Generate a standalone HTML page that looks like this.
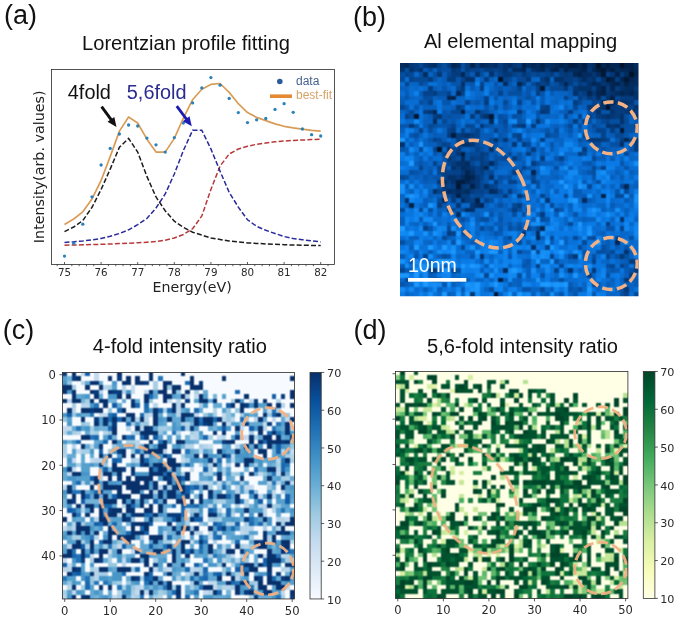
<!DOCTYPE html>
<html lang="en"><head><meta charset="utf-8"><title>Lorentzian profile fitting and intensity ratio maps</title>
<style>html,body{margin:0;padding:0;background:#fff}body{width:680px;height:620px;overflow:hidden}svg{display:block}.ar{font-family:"Liberation Sans",sans-serif}.dj{font-family:"DejaVu Sans","Liberation Sans",sans-serif}</style></head><body>
<svg width="680" height="620" viewBox="0 0 680 620">
<defs>
<linearGradient id="gBlues" x1="0" y1="1" x2="0" y2="0">
<stop offset="0.000" stop-color="#f7fbff"/>
<stop offset="0.125" stop-color="#deebf7"/>
<stop offset="0.250" stop-color="#c6dbef"/>
<stop offset="0.375" stop-color="#9dcae1"/>
<stop offset="0.500" stop-color="#6aaed6"/>
<stop offset="0.625" stop-color="#4191c6"/>
<stop offset="0.750" stop-color="#2070b4"/>
<stop offset="0.875" stop-color="#08509b"/>
<stop offset="1.000" stop-color="#08306b"/>
</linearGradient>
<linearGradient id="gYlGn" x1="0" y1="1" x2="0" y2="0">
<stop offset="0.000" stop-color="#ffffe5"/>
<stop offset="0.125" stop-color="#f7fcb9"/>
<stop offset="0.250" stop-color="#d9f0a3"/>
<stop offset="0.375" stop-color="#acdd8e"/>
<stop offset="0.500" stop-color="#77c679"/>
<stop offset="0.625" stop-color="#40aa5c"/>
<stop offset="0.750" stop-color="#228343"/>
<stop offset="0.875" stop-color="#006737"/>
<stop offset="1.000" stop-color="#004529"/>
</linearGradient>
<filter id="bl" x="0" y="0" width="100%" height="100%" color-interpolation-filters="sRGB"><feConvolveMatrix order="3" kernelMatrix="1 2 1 2 4 2 1 2 1" divisor="16" edgeMode="duplicate" preserveAlpha="true"/></filter>
<clipPath id="clipB"><rect x="400" y="63" width="238.5" height="233.3"/></clipPath>
<clipPath id="clipC"><rect x="62.45" y="372.45" width="232.0" height="226.5"/></clipPath>
<clipPath id="clipD"><rect x="395.5" y="371.45" width="232.4" height="226.95"/></clipPath>
</defs>
<rect width="680" height="620" fill="#fff"/>
<text class="ar" x="3.9" y="24.3" font-size="27" fill="#111" text-anchor="start">(a)</text>
<text class="ar" x="353.1" y="26.0" font-size="27" fill="#111" text-anchor="start">(b)</text>
<text class="ar" x="2.8" y="338.9" font-size="27" fill="#111" text-anchor="start">(c)</text>
<text class="ar" x="353.5" y="338.9" font-size="27" fill="#111" text-anchor="start">(d)</text>
<text class="ar" x="185.95" y="49.6" font-size="20.1" fill="#111" text-anchor="middle">Lorentzian profile fitting</text>
<text class="ar" x="520.55" y="48.1" font-size="20.1" fill="#111" text-anchor="middle">Al elemental mapping</text>
<text class="ar" x="179.9" y="352.7" font-size="20.1" fill="#111" text-anchor="middle">4-fold intensity ratio</text>
<text class="ar" x="522.5" y="353.2" font-size="20.1" fill="#111" text-anchor="middle">5,6-fold intensity ratio</text>
<g id="panel-a">
<rect x="51.45" y="69.45" width="283.05" height="194.95" fill="#fff" stroke="#2a2a2a" stroke-width="0.8"/>
<path d="M64.50 264.4v-2.4M101.10 264.4v-2.4M137.70 264.4v-2.4M174.30 264.4v-2.4M210.90 264.4v-2.4M247.50 264.4v-2.4M284.10 264.4v-2.4M320.70 264.4v-2.4M57.18 264.4v1.8M71.82 264.4v1.8M79.14 264.4v1.8M86.46 264.4v1.8M93.78 264.4v1.8M108.42 264.4v1.8M115.74 264.4v1.8M123.06 264.4v1.8M130.38 264.4v1.8M145.02 264.4v1.8M152.34 264.4v1.8M159.66 264.4v1.8M166.98 264.4v1.8M181.62 264.4v1.8M188.94 264.4v1.8M196.26 264.4v1.8M203.58 264.4v1.8M218.22 264.4v1.8M225.54 264.4v1.8M232.86 264.4v1.8M240.18 264.4v1.8M254.82 264.4v1.8M262.14 264.4v1.8M269.46 264.4v1.8M276.78 264.4v1.8M291.42 264.4v1.8M298.74 264.4v1.8M306.06 264.4v1.8M313.38 264.4v1.8M328.02 264.4v1.8" stroke="#333" stroke-width="0.8" fill="none"/>
<text class="dj" x="64.5" y="275.8" font-size="10.3" fill="#2a2a2a" text-anchor="middle">75</text>
<text class="dj" x="101.1" y="275.8" font-size="10.3" fill="#2a2a2a" text-anchor="middle">76</text>
<text class="dj" x="137.7" y="275.8" font-size="10.3" fill="#2a2a2a" text-anchor="middle">77</text>
<text class="dj" x="174.3" y="275.8" font-size="10.3" fill="#2a2a2a" text-anchor="middle">78</text>
<text class="dj" x="210.9" y="275.8" font-size="10.3" fill="#2a2a2a" text-anchor="middle">79</text>
<text class="dj" x="247.5" y="275.8" font-size="10.3" fill="#2a2a2a" text-anchor="middle">80</text>
<text class="dj" x="284.1" y="275.8" font-size="10.3" fill="#2a2a2a" text-anchor="middle">81</text>
<text class="dj" x="320.7" y="275.8" font-size="10.3" fill="#2a2a2a" text-anchor="middle">82</text>
<text class="dj" x="192.1" y="291.8" font-size="14.2" fill="#222" text-anchor="middle">Energy(eV)</text>
<text class="dj" font-size="14.3" fill="#222" text-anchor="middle" transform="translate(44.4,166.8) rotate(-90)">Intensity(arb. values)</text>
<polyline points="64.5,245.2 73.7,245.0 82.8,244.8 92.0,244.6 101.1,244.3 110.2,244.0 119.4,243.6 128.6,243.3 137.7,242.8 146.9,242.2 156.0,241.5 165.2,240.2 174.3,238.0 183.4,234.5 192.6,228.8 201.8,216.0 210.9,189.5 220.1,166.0 229.2,154.0 238.3,149.0 247.5,146.3 256.6,144.3 265.8,143.0 275.0,141.8 284.1,141.0 293.2,140.4 302.4,140.0 311.6,139.6 320.7,139.2" fill="none" stroke="#b8383a" stroke-width="1.5" stroke-dasharray="5 2.2"/>
<polyline points="64.5,242.4 73.7,241.8 82.8,241.0 92.0,239.9 101.1,238.4 110.2,236.3 119.4,233.5 128.6,229.8 137.7,224.7 146.9,218.5 156.0,208.0 165.2,194.0 174.3,174.0 183.4,150.5 192.6,130.3 201.8,130.3 210.9,148.9 220.1,171.3 229.2,192.4 238.3,207.1 247.5,219.8 256.6,226.3 265.8,230.3 275.0,233.5 284.1,236.5 293.2,238.5 302.4,239.7 311.6,240.9 320.7,241.9" fill="none" stroke="#2a2a9c" stroke-width="1.5" stroke-dasharray="5 2.2"/>
<polyline points="64.5,231.6 73.7,227.0 82.8,220.6 92.0,207.3 101.1,189.5 110.2,169.1 119.4,147.3 128.6,138.4 137.7,152.1 146.9,176.4 156.0,197.0 165.2,210.7 174.3,221.2 183.4,227.3 192.6,232.2 201.8,235.1 210.9,237.9 220.1,239.5 229.2,240.9 238.3,242.0 247.5,242.9 256.6,243.4 265.8,243.9 275.0,244.3 284.1,244.7 293.2,245.0 302.4,245.2 311.6,245.4 320.7,245.6" fill="none" stroke="#1c1c1c" stroke-width="1.5" stroke-dasharray="5 2.2"/>
<polyline points="64.5,224.4 73.7,219.0 82.8,211.8 92.0,198.9 101.1,180.5 110.2,156.6 119.4,131.1 128.6,117.0 137.7,123.0 146.9,139.2 156.0,152.1 165.2,152.1 174.3,138.4 183.4,118.2 192.6,99.7 201.8,89.2 210.9,84.4 220.1,83.5 229.2,92.4 238.3,103.7 247.5,112.6 256.6,117.4 265.8,120.6 275.0,123.9 284.1,126.3 293.2,127.9 302.4,129.2 311.6,130.3 320.7,131.1" fill="none" stroke="#e0a25e" stroke-width="1.7" stroke-linejoin="round"/>
<polyline points="64.5,224.4 73.7,219.0 82.8,211.8 92.0,198.9 101.1,180.5 110.2,156.6 119.4,131.1 128.6,117.0 137.7,123.0 146.9,139.2 156.0,152.1 165.2,152.1 174.3,138.4 183.4,118.2 192.6,99.7 201.8,89.2 210.9,84.4 220.1,83.5 229.2,92.4 238.3,103.7 247.5,112.6 256.6,117.4 265.8,120.6 275.0,123.9 284.1,126.3 293.2,127.9 302.4,129.2 311.6,130.3 320.7,131.1" fill="none" stroke="#b9853f" stroke-width="0.5" stroke-linejoin="round" opacity="0.6"/>
<g fill="#2b82b8">
<circle cx="64.5" cy="256.1" r="1.65"/>
<circle cx="73.7" cy="243.2" r="1.65"/>
<circle cx="82.8" cy="224.2" r="1.65"/>
<circle cx="92.0" cy="196.8" r="1.65"/>
<circle cx="101.1" cy="165.0" r="1.65"/>
<circle cx="110.2" cy="148.4" r="1.65"/>
<circle cx="119.4" cy="134.0" r="1.65"/>
<circle cx="128.6" cy="125.0" r="1.65"/>
<circle cx="137.7" cy="126.0" r="1.65"/>
<circle cx="146.9" cy="138.1" r="1.65"/>
<circle cx="156.0" cy="144.8" r="1.65"/>
<circle cx="165.2" cy="152.1" r="1.65"/>
<circle cx="174.3" cy="137.6" r="1.65"/>
<circle cx="183.4" cy="123.1" r="1.65"/>
<circle cx="192.6" cy="102.9" r="1.65"/>
<circle cx="201.8" cy="87.9" r="1.65"/>
<circle cx="210.9" cy="77.6" r="1.65"/>
<circle cx="220.1" cy="85.2" r="1.65"/>
<circle cx="229.2" cy="98.4" r="1.65"/>
<circle cx="238.3" cy="112.6" r="1.65"/>
<circle cx="247.5" cy="122.6" r="1.65"/>
<circle cx="256.6" cy="119.8" r="1.65"/>
<circle cx="265.8" cy="118.5" r="1.65"/>
<circle cx="275.0" cy="109.4" r="1.65"/>
<circle cx="284.1" cy="103.7" r="1.65"/>
<circle cx="293.2" cy="112.3" r="1.65"/>
<circle cx="302.4" cy="129.0" r="1.65"/>
<circle cx="311.6" cy="134.7" r="1.65"/>
<circle cx="320.7" cy="136.0" r="1.65"/>
</g>
<text class="ar" x="67.8" y="99.4" font-size="19.9" fill="#111" text-anchor="start">4fold</text>
<text class="ar" x="126.8" y="99.4" font-size="19.9" fill="#2b2b8f" text-anchor="start">5,6fold</text>
<line x1="101.6" y1="106.6" x2="111.5" y2="120.1" stroke="#111" stroke-width="2.9"/>
<polygon points="116.5,127.0 107.5,121.8 114.3,116.9" fill="#111"/>
<line x1="176.8" y1="106.1" x2="186.7" y2="119.5" stroke="#1c1cb4" stroke-width="2.9"/>
<polygon points="191.8,126.3 182.8,121.2 189.5,116.2" fill="#1c1cb4"/>
<circle cx="279.8" cy="81.5" r="2.8" fill="#2d5a9c"/>
<text class="ar" x="296" y="84.7" font-size="12" fill="#44618f" text-anchor="start">data</text>
<line x1="270" y1="96.2" x2="292" y2="96.2" stroke="#e58a32" stroke-width="3.6"/>
<text class="ar" x="296" y="99.3" font-size="12" fill="#d3a468" text-anchor="start">best-fit</text>
</g>
<g id="panel-b">
<g clip-path="url(#clipB)">
<g filter="url(#bl)"><g transform="translate(395.324,58.334) scale(4.67647,4.66600)" shape-rendering="crispEdges">
<rect width="53" height="52" fill="#0764c3"/>
<path fill="#011128" d="M43 0h1v1h-1zM48 0h1v1h-1zM43 1h1v1h-1zM48 1h1v1h-1zM50 3h1v1h-1zM22 4h1v1h-1zM45 10h1v1h-1zM9 19h1v1h-1z"/>
<path fill="#011733" d="M44 2h1v1h-1zM44 3h1v1h-1zM45 4h1v1h-1zM49 4h1v1h-1zM31 6h1v1h-1zM4 12h1v1h-1zM20 12h1v1h-1zM48 15h1v1h-1zM13 27h1v1h-1zM21 50h1v1h-1zM21 51h1v1h-1z"/>
<path fill="#011c3e" d="M37 0h2v1h-2zM40 0h1v1h-1zM45 0h1v1h-1zM37 1h2v1h-2zM40 1h1v1h-1zM45 1h1v1h-1zM43 2h1v1h-1zM46 2h1v1h-1zM14 11h1v1h-1zM50 11h1v1h-1zM12 16h1v1h-1zM14 20h1v1h-1zM13 26h2v1h-2zM22 47h1v1h-1z"/>
<path fill="#022149" d="M16 0h1v1h-1zM27 0h1v1h-1zM31 0h1v1h-1zM35 0h1v1h-1zM49 0h2v1h-2zM16 1h1v1h-1zM27 1h1v1h-1zM31 1h1v1h-1zM35 1h1v1h-1zM49 1h2v1h-2zM34 2h1v1h-1zM36 2h1v1h-1zM40 2h1v1h-1zM50 2h1v1h-1zM39 3h1v1h-1zM47 3h1v1h-1zM46 4h1v1h-1zM47 5h1v1h-1zM49 5h1v1h-1zM44 6h1v1h-1zM44 7h1v1h-1zM12 8h1v1h-1zM46 8h1v1h-1zM15 25h1v1h-1zM16 27h1v1h-1zM13 29h1v1h-1zM44 29h1v1h-1zM17 30h1v1h-1zM3 31h1v1h-1z"/>
<path fill="#022653" d="M2 0h1v1h-1zM12 0h1v1h-1zM18 0h1v1h-1zM29 0h1v1h-1zM34 0h1v1h-1zM36 0h1v1h-1zM39 0h1v1h-1zM44 0h1v1h-1zM46 0h2v1h-2zM2 1h1v1h-1zM12 1h1v1h-1zM18 1h1v1h-1zM29 1h1v1h-1zM34 1h1v1h-1zM36 1h1v1h-1zM39 1h1v1h-1zM44 1h1v1h-1zM46 1h2v1h-2zM27 2h1v1h-1zM31 2h1v1h-1zM33 2h1v1h-1zM39 2h1v1h-1zM42 2h1v1h-1zM45 2h1v1h-1zM48 2h2v1h-2zM51 2h2v1h-2zM14 3h1v1h-1zM38 3h1v1h-1zM51 3h2v1h-2zM48 4h1v1h-1zM50 4h1v1h-1zM26 5h1v1h-1zM36 5h1v1h-1zM42 5h1v1h-1zM46 5h1v1h-1zM46 6h1v1h-1zM13 7h1v1h-1zM41 7h1v1h-1zM43 7h1v1h-1zM48 7h1v1h-1zM50 7h1v1h-1zM11 8h1v1h-1zM46 9h1v1h-1zM8 11h1v1h-1zM49 17h1v1h-1zM19 23h1v1h-1zM15 24h1v1h-1zM29 24h1v1h-1zM16 25h1v1h-1zM15 26h1v1h-1zM49 27h1v1h-1zM18 31h1v1h-1zM31 36h1v1h-1zM30 38h1v1h-1zM47 39h1v1h-1z"/>
<path fill="#022c5f" d="M0 0h2v1h-2zM8 0h1v1h-1zM13 0h1v1h-1zM19 0h1v1h-1zM21 0h1v1h-1zM24 0h1v1h-1zM28 0h1v1h-1zM30 0h1v1h-1zM32 0h2v1h-2zM42 0h1v1h-1zM51 0h2v1h-2zM0 1h2v1h-2zM8 1h1v1h-1zM13 1h1v1h-1zM19 1h1v1h-1zM21 1h1v1h-1zM24 1h1v1h-1zM28 1h1v1h-1zM30 1h1v1h-1zM32 1h2v1h-2zM42 1h1v1h-1zM51 1h2v1h-2zM25 2h2v1h-2zM30 2h1v1h-1zM37 2h2v1h-2zM47 2h1v1h-1zM6 3h1v1h-1zM40 3h2v1h-2zM43 3h1v1h-1zM49 3h1v1h-1zM40 4h1v1h-1zM51 4h2v1h-2zM23 5h1v1h-1zM43 5h1v1h-1zM50 5h3v1h-3zM43 6h1v1h-1zM49 6h2v1h-2zM47 7h1v1h-1zM49 7h1v1h-1zM43 8h1v1h-1zM44 9h1v1h-1zM8 13h1v1h-1zM20 13h1v1h-1zM48 18h1v1h-1zM14 21h1v1h-1zM15 22h1v1h-1zM20 22h1v1h-1zM14 23h1v1h-1zM14 25h1v1h-1zM10 26h1v1h-1zM11 28h1v1h-1zM13 28h1v1h-1zM15 28h1v1h-1zM20 28h1v1h-1zM10 30h1v1h-1zM14 30h1v1h-1zM40 30h1v1h-1zM17 31h1v1h-1zM15 32h1v1h-1zM13 33h1v1h-1zM30 37h1v1h-1zM23 45h1v1h-1z"/>
<path fill="#03316a" d="M7 0h1v1h-1zM20 0h1v1h-1zM23 0h1v1h-1zM41 0h1v1h-1zM7 1h1v1h-1zM20 1h1v1h-1zM23 1h1v1h-1zM41 1h1v1h-1zM0 2h2v1h-2zM3 2h1v1h-1zM5 2h1v1h-1zM23 2h1v1h-1zM29 2h1v1h-1zM17 3h1v1h-1zM20 3h1v1h-1zM15 4h2v1h-2zM32 4h1v1h-1zM34 4h2v1h-2zM42 4h1v1h-1zM44 4h1v1h-1zM14 5h1v1h-1zM41 5h1v1h-1zM45 5h1v1h-1zM48 5h1v1h-1zM39 6h3v1h-3zM48 6h1v1h-1zM38 7h1v1h-1zM46 7h1v1h-1zM51 7h2v1h-2zM45 8h1v1h-1zM51 8h2v1h-2zM48 9h2v1h-2zM44 10h1v1h-1zM51 10h2v1h-2zM17 11h1v1h-1zM43 11h1v1h-1zM46 11h1v1h-1zM19 12h1v1h-1zM45 12h1v1h-1zM48 12h1v1h-1zM51 12h2v1h-2zM48 13h1v1h-1zM45 14h1v1h-1zM47 14h1v1h-1zM15 16h1v1h-1zM21 17h1v1h-1zM0 18h2v1h-2zM14 18h2v1h-2zM11 19h1v1h-1zM20 19h1v1h-1zM13 22h2v1h-2zM12 23h1v1h-1zM15 23h1v1h-1zM16 24h1v1h-1zM11 25h2v1h-2zM20 25h1v1h-1zM12 26h1v1h-1zM16 26h1v1h-1zM19 27h1v1h-1zM8 28h1v1h-1zM12 28h1v1h-1zM14 28h1v1h-1zM21 28h1v1h-1zM2 30h1v1h-1zM16 32h1v1h-1zM48 34h1v1h-1zM29 40h1v1h-1zM49 41h1v1h-1zM18 42h1v1h-1zM37 45h1v1h-1z"/>
<path fill="#033775" d="M3 0h1v1h-1zM6 0h1v1h-1zM17 0h1v1h-1zM25 0h1v1h-1zM3 1h1v1h-1zM6 1h1v1h-1zM17 1h1v1h-1zM25 1h1v1h-1zM12 2h1v1h-1zM32 2h1v1h-1zM35 2h1v1h-1zM41 2h1v1h-1zM9 3h1v1h-1zM23 3h2v1h-2zM27 3h1v1h-1zM36 3h1v1h-1zM42 3h1v1h-1zM46 3h1v1h-1zM28 4h1v1h-1zM39 4h1v1h-1zM41 4h1v1h-1zM30 5h1v1h-1zM44 5h1v1h-1zM14 6h1v1h-1zM36 6h1v1h-1zM38 6h1v1h-1zM51 6h2v1h-2zM42 7h1v1h-1zM45 7h1v1h-1zM41 8h1v1h-1zM47 9h1v1h-1zM50 9h1v1h-1zM41 10h2v1h-2zM46 10h1v1h-1zM48 10h1v1h-1zM7 11h1v1h-1zM26 11h1v1h-1zM31 11h1v1h-1zM49 11h1v1h-1zM9 12h1v1h-1zM44 12h1v1h-1zM46 12h1v1h-1zM30 13h1v1h-1zM3 14h1v1h-1zM18 14h1v1h-1zM27 14h1v1h-1zM46 14h1v1h-1zM14 16h1v1h-1zM23 17h1v1h-1zM41 17h3v1h-3zM51 17h2v1h-2zM16 18h1v1h-1zM25 18h1v1h-1zM13 20h1v1h-1zM11 21h1v1h-1zM16 23h1v1h-1zM18 23h1v1h-1zM14 24h1v1h-1zM13 25h1v1h-1zM17 25h1v1h-1zM9 26h1v1h-1zM17 26h1v1h-1zM21 26h1v1h-1zM10 27h1v1h-1zM14 27h1v1h-1zM17 27h1v1h-1zM26 29h1v1h-1zM32 30h1v1h-1zM13 31h1v1h-1zM16 31h1v1h-1zM11 32h1v1h-1zM27 37h1v1h-1zM38 42h1v1h-1zM48 42h1v1h-1zM42 45h1v1h-1zM49 47h1v1h-1zM49 49h1v1h-1zM16 50h1v1h-1zM16 51h1v1h-1z"/>
<path fill="#043d7f" d="M4 0h1v1h-1zM11 0h1v1h-1zM15 0h1v1h-1zM22 0h1v1h-1zM26 0h1v1h-1zM4 1h1v1h-1zM11 1h1v1h-1zM15 1h1v1h-1zM22 1h1v1h-1zM26 1h1v1h-1zM4 2h1v1h-1zM13 2h1v1h-1zM15 2h1v1h-1zM19 2h2v1h-2zM22 2h1v1h-1zM12 3h2v1h-2zM33 3h1v1h-1zM35 3h1v1h-1zM37 3h1v1h-1zM48 3h1v1h-1zM7 4h1v1h-1zM11 4h2v1h-2zM19 4h1v1h-1zM31 4h1v1h-1zM36 4h2v1h-2zM47 4h1v1h-1zM27 5h1v1h-1zM32 5h1v1h-1zM35 5h1v1h-1zM37 5h1v1h-1zM39 5h1v1h-1zM7 6h1v1h-1zM18 6h1v1h-1zM45 6h1v1h-1zM47 6h1v1h-1zM8 7h1v1h-1zM30 7h1v1h-1zM40 7h1v1h-1zM39 8h1v1h-1zM48 8h3v1h-3zM19 9h1v1h-1zM38 9h1v1h-1zM45 9h1v1h-1zM13 10h1v1h-1zM32 10h1v1h-1zM43 10h1v1h-1zM47 10h1v1h-1zM49 10h1v1h-1zM6 11h1v1h-1zM32 11h1v1h-1zM37 11h1v1h-1zM47 11h2v1h-2zM51 11h2v1h-2zM8 12h1v1h-1zM16 12h1v1h-1zM18 12h1v1h-1zM43 12h1v1h-1zM47 12h1v1h-1zM38 13h1v1h-1zM26 14h1v1h-1zM29 14h1v1h-1zM12 15h1v1h-1zM46 15h1v1h-1zM11 16h1v1h-1zM13 16h1v1h-1zM16 16h1v1h-1zM13 17h1v1h-1zM31 17h1v1h-1zM44 17h1v1h-1zM48 17h1v1h-1zM27 18h1v1h-1zM51 18h2v1h-2zM13 19h1v1h-1zM29 19h1v1h-1zM40 19h1v1h-1zM51 19h2v1h-2zM18 20h1v1h-1zM28 20h1v1h-1zM39 20h1v1h-1zM16 21h1v1h-1zM18 21h1v1h-1zM25 21h1v1h-1zM31 21h1v1h-1zM12 22h1v1h-1zM18 22h1v1h-1zM29 22h1v1h-1zM13 23h1v1h-1zM10 24h1v1h-1zM18 24h1v1h-1zM25 24h1v1h-1zM11 26h1v1h-1zM12 27h1v1h-1zM15 27h1v1h-1zM10 28h1v1h-1zM16 28h1v1h-1zM24 28h1v1h-1zM12 29h1v1h-1zM14 29h2v1h-2zM23 29h1v1h-1zM12 30h1v1h-1zM15 30h1v1h-1zM9 31h1v1h-1zM26 31h1v1h-1zM25 32h1v1h-1zM31 33h1v1h-1zM45 35h1v1h-1zM11 37h1v1h-1zM50 43h3v1h-3zM30 44h1v1h-1zM8 45h1v1h-1zM51 45h2v1h-2zM41 46h1v1h-1zM50 46h1v1h-1zM9 47h1v1h-1zM13 47h1v1h-1z"/>
<path fill="#04438c" d="M9 0h1v1h-1zM9 1h1v1h-1zM16 2h2v1h-2zM21 2h1v1h-1zM2 3h1v1h-1zM22 3h1v1h-1zM25 3h1v1h-1zM28 3h1v1h-1zM30 3h1v1h-1zM32 3h1v1h-1zM45 3h1v1h-1zM3 4h1v1h-1zM14 4h1v1h-1zM23 4h1v1h-1zM38 4h1v1h-1zM2 5h1v1h-1zM18 5h1v1h-1zM31 5h1v1h-1zM40 5h1v1h-1zM26 6h1v1h-1zM30 6h1v1h-1zM42 6h1v1h-1zM6 7h2v1h-2zM11 7h1v1h-1zM14 7h1v1h-1zM22 7h1v1h-1zM39 7h1v1h-1zM19 8h1v1h-1zM36 8h1v1h-1zM42 8h1v1h-1zM7 9h1v1h-1zM15 9h1v1h-1zM26 9h1v1h-1zM42 9h1v1h-1zM31 10h1v1h-1zM50 10h1v1h-1zM2 12h1v1h-1zM39 12h1v1h-1zM41 12h1v1h-1zM40 13h1v1h-1zM45 13h1v1h-1zM12 14h1v1h-1zM51 14h2v1h-2zM5 15h1v1h-1zM11 15h1v1h-1zM14 15h1v1h-1zM17 15h1v1h-1zM21 15h1v1h-1zM43 15h2v1h-2zM17 16h1v1h-1zM26 16h1v1h-1zM44 16h1v1h-1zM8 17h1v1h-1zM26 17h1v1h-1zM45 17h1v1h-1zM50 17h1v1h-1zM10 18h1v1h-1zM13 18h1v1h-1zM8 19h1v1h-1zM17 19h1v1h-1zM10 20h1v1h-1zM19 20h1v1h-1zM12 21h1v1h-1zM17 21h1v1h-1zM35 21h1v1h-1zM8 22h1v1h-1zM11 22h1v1h-1zM19 22h1v1h-1zM5 23h1v1h-1zM9 23h1v1h-1zM17 23h1v1h-1zM27 23h1v1h-1zM44 23h1v1h-1zM11 24h3v1h-3zM17 24h1v1h-1zM26 24h1v1h-1zM10 25h1v1h-1zM18 25h1v1h-1zM24 26h2v1h-2zM29 26h1v1h-1zM11 27h1v1h-1zM20 27h1v1h-1zM9 28h1v1h-1zM17 28h2v1h-2zM31 29h1v1h-1zM16 30h1v1h-1zM19 30h1v1h-1zM6 36h1v1h-1zM48 36h1v1h-1zM12 37h1v1h-1zM47 38h1v1h-1zM32 40h1v1h-1zM6 42h1v1h-1zM33 42h1v1h-1zM45 42h1v1h-1zM42 43h1v1h-1zM48 44h1v1h-1zM34 45h1v1h-1zM8 47h1v1h-1zM42 48h1v1h-1zM49 50h1v1h-1zM49 51h1v1h-1z"/>
<path fill="#054996" d="M5 0h1v1h-1zM5 1h1v1h-1zM7 2h1v1h-1zM9 2h1v1h-1zM18 2h1v1h-1zM24 2h1v1h-1zM28 2h1v1h-1zM3 3h1v1h-1zM11 3h1v1h-1zM15 3h1v1h-1zM26 3h1v1h-1zM29 3h1v1h-1zM31 3h1v1h-1zM0 4h2v1h-2zM4 4h3v1h-3zM24 4h1v1h-1zM26 4h2v1h-2zM43 4h1v1h-1zM5 5h1v1h-1zM29 5h1v1h-1zM13 6h1v1h-1zM33 6h3v1h-3zM40 8h1v1h-1zM47 8h1v1h-1zM23 9h1v1h-1zM39 9h1v1h-1zM43 9h1v1h-1zM0 10h2v1h-2zM14 10h1v1h-1zM38 10h1v1h-1zM3 11h1v1h-1zM12 11h2v1h-2zM18 11h1v1h-1zM42 11h1v1h-1zM36 12h1v1h-1zM10 13h1v1h-1zM23 13h1v1h-1zM44 13h1v1h-1zM49 13h1v1h-1zM7 14h1v1h-1zM15 14h2v1h-2zM25 14h1v1h-1zM37 14h1v1h-1zM39 14h1v1h-1zM42 14h1v1h-1zM48 14h1v1h-1zM25 16h1v1h-1zM32 16h1v1h-1zM40 16h1v1h-1zM47 16h2v1h-2zM9 17h1v1h-1zM14 17h1v1h-1zM20 17h1v1h-1zM11 18h1v1h-1zM17 18h1v1h-1zM28 18h1v1h-1zM42 18h2v1h-2zM5 19h1v1h-1zM12 19h1v1h-1zM12 20h1v1h-1zM16 20h2v1h-2zM24 20h1v1h-1zM40 20h1v1h-1zM49 20h1v1h-1zM19 21h1v1h-1zM23 21h1v1h-1zM42 21h1v1h-1zM16 22h1v1h-1zM21 22h1v1h-1zM10 23h1v1h-1zM42 23h1v1h-1zM9 24h1v1h-1zM20 24h1v1h-1zM0 25h2v1h-2zM29 25h1v1h-1zM18 26h1v1h-1zM18 27h1v1h-1zM21 27h1v1h-1zM41 27h1v1h-1zM48 27h1v1h-1zM19 28h1v1h-1zM22 28h1v1h-1zM49 28h1v1h-1zM11 29h1v1h-1zM17 29h2v1h-2zM36 29h1v1h-1zM47 29h2v1h-2zM9 30h1v1h-1zM25 31h1v1h-1zM33 31h1v1h-1zM0 32h2v1h-2zM5 32h1v1h-1zM12 32h1v1h-1zM14 32h1v1h-1zM34 32h1v1h-1zM37 35h1v1h-1zM11 36h1v1h-1zM18 36h1v1h-1zM28 36h1v1h-1zM30 36h1v1h-1zM10 38h1v1h-1zM24 38h1v1h-1zM33 38h1v1h-1zM38 38h1v1h-1zM42 38h1v1h-1zM26 39h1v1h-1zM40 39h1v1h-1zM14 40h1v1h-1zM39 40h1v1h-1zM26 41h1v1h-1zM30 41h1v1h-1zM46 41h1v1h-1zM37 42h1v1h-1zM35 44h1v1h-1zM46 44h1v1h-1zM0 45h2v1h-2zM7 45h1v1h-1zM12 45h1v1h-1zM19 46h1v1h-1zM2 47h1v1h-1zM51 50h2v1h-2zM51 51h2v1h-2z"/>
<path fill="#054fa1" d="M10 0h1v1h-1zM14 0h1v1h-1zM10 1h1v1h-1zM14 1h1v1h-1zM2 2h1v1h-1zM10 2h2v1h-2zM0 3h2v1h-2zM5 3h1v1h-1zM8 3h1v1h-1zM18 3h1v1h-1zM21 3h1v1h-1zM34 3h1v1h-1zM34 5h1v1h-1zM38 5h1v1h-1zM9 7h2v1h-2zM24 7h3v1h-3zM6 8h2v1h-2zM28 8h1v1h-1zM44 8h1v1h-1zM5 9h1v1h-1zM21 10h1v1h-1zM19 11h1v1h-1zM41 11h1v1h-1zM3 12h1v1h-1zM11 12h1v1h-1zM22 12h1v1h-1zM25 12h1v1h-1zM42 12h1v1h-1zM49 12h1v1h-1zM41 13h1v1h-1zM46 13h2v1h-2zM4 14h1v1h-1zM8 14h1v1h-1zM11 14h1v1h-1zM19 14h1v1h-1zM23 14h1v1h-1zM49 14h2v1h-2zM7 15h1v1h-1zM16 15h1v1h-1zM34 15h1v1h-1zM49 15h2v1h-2zM4 16h1v1h-1zM15 17h2v1h-2zM39 17h1v1h-1zM9 18h1v1h-1zM21 18h1v1h-1zM46 18h2v1h-2zM18 19h1v1h-1zM22 19h1v1h-1zM44 19h1v1h-1zM11 20h1v1h-1zM15 20h1v1h-1zM13 21h1v1h-1zM15 21h1v1h-1zM21 21h2v1h-2zM30 22h1v1h-1zM34 23h1v1h-1zM3 24h1v1h-1zM19 24h1v1h-1zM42 24h1v1h-1zM2 25h1v1h-1zM22 25h1v1h-1zM24 25h1v1h-1zM30 26h1v1h-1zM43 26h1v1h-1zM30 27h1v1h-1zM16 29h1v1h-1zM27 29h1v1h-1zM20 30h1v1h-1zM22 31h1v1h-1zM7 32h1v1h-1zM26 32h1v1h-1zM25 33h1v1h-1zM27 33h1v1h-1zM14 34h1v1h-1zM18 34h2v1h-2zM31 34h1v1h-1zM24 36h1v1h-1zM26 36h1v1h-1zM14 37h1v1h-1zM41 38h1v1h-1zM50 38h1v1h-1zM0 39h2v1h-2zM44 40h1v1h-1zM43 41h2v1h-2zM10 42h1v1h-1zM42 42h1v1h-1zM47 42h1v1h-1zM49 42h1v1h-1zM34 43h1v1h-1zM45 44h1v1h-1zM51 44h2v1h-2zM13 45h1v1h-1zM50 45h1v1h-1zM26 46h1v1h-1zM45 46h1v1h-1zM35 47h1v1h-1zM20 49h1v1h-1zM31 49h1v1h-1zM39 49h1v1h-1zM48 49h1v1h-1zM48 50h1v1h-1zM48 51h1v1h-1z"/>
<path fill="#0655ac" d="M14 2h1v1h-1zM8 4h1v1h-1zM13 4h1v1h-1zM6 5h1v1h-1zM12 5h2v1h-2zM16 5h1v1h-1zM21 5h1v1h-1zM24 5h1v1h-1zM33 5h1v1h-1zM10 6h1v1h-1zM22 6h1v1h-1zM25 6h1v1h-1zM28 6h1v1h-1zM37 6h1v1h-1zM28 7h1v1h-1zM31 7h1v1h-1zM2 8h1v1h-1zM21 8h1v1h-1zM6 9h1v1h-1zM10 9h2v1h-2zM17 9h1v1h-1zM29 9h1v1h-1zM51 9h2v1h-2zM2 10h1v1h-1zM4 10h1v1h-1zM19 10h1v1h-1zM23 10h1v1h-1zM10 11h1v1h-1zM30 11h1v1h-1zM44 11h2v1h-2zM10 12h1v1h-1zM12 12h2v1h-2zM23 12h1v1h-1zM26 12h1v1h-1zM30 12h1v1h-1zM12 13h1v1h-1zM17 13h1v1h-1zM22 13h1v1h-1zM26 13h1v1h-1zM43 13h1v1h-1zM0 14h3v1h-3zM9 14h2v1h-2zM20 14h1v1h-1zM43 14h1v1h-1zM23 15h1v1h-1zM32 15h1v1h-1zM37 15h1v1h-1zM42 15h1v1h-1zM47 15h1v1h-1zM3 16h1v1h-1zM22 16h1v1h-1zM33 16h2v1h-2zM49 16h1v1h-1zM7 17h1v1h-1zM17 17h1v1h-1zM22 17h1v1h-1zM47 17h1v1h-1zM18 18h3v1h-3zM33 18h1v1h-1zM0 19h2v1h-2zM16 19h1v1h-1zM50 19h1v1h-1zM8 20h1v1h-1zM21 20h1v1h-1zM26 20h1v1h-1zM10 21h1v1h-1zM26 21h1v1h-1zM34 21h1v1h-1zM5 22h1v1h-1zM17 22h1v1h-1zM41 22h1v1h-1zM48 22h1v1h-1zM21 23h1v1h-1zM28 23h1v1h-1zM49 23h1v1h-1zM4 24h1v1h-1zM7 24h1v1h-1zM41 24h1v1h-1zM6 25h1v1h-1zM8 25h2v1h-2zM19 25h1v1h-1zM23 25h1v1h-1zM42 25h1v1h-1zM19 26h1v1h-1zM22 26h1v1h-1zM9 27h1v1h-1zM47 28h1v1h-1zM10 29h1v1h-1zM21 29h2v1h-2zM10 31h1v1h-1zM24 32h1v1h-1zM28 32h1v1h-1zM35 32h1v1h-1zM20 33h1v1h-1zM38 33h1v1h-1zM22 34h1v1h-1zM32 34h1v1h-1zM24 35h1v1h-1zM26 35h1v1h-1zM7 36h1v1h-1zM20 36h1v1h-1zM22 36h1v1h-1zM45 36h2v1h-2zM15 37h1v1h-1zM21 37h1v1h-1zM12 39h1v1h-1zM49 40h1v1h-1zM40 41h1v1h-1zM45 41h1v1h-1zM4 42h1v1h-1zM11 42h1v1h-1zM16 42h1v1h-1zM24 42h1v1h-1zM3 43h1v1h-1zM28 43h1v1h-1zM27 44h1v1h-1zM49 44h1v1h-1zM46 45h1v1h-1zM31 46h1v1h-1zM0 48h2v1h-2zM10 48h1v1h-1zM27 49h2v1h-2zM37 49h1v1h-1zM35 50h1v1h-1zM38 50h1v1h-1zM42 50h1v1h-1zM35 51h1v1h-1zM38 51h1v1h-1zM42 51h1v1h-1z"/>
<path fill="#065bb6" d="M6 2h1v1h-1zM10 3h1v1h-1zM16 3h1v1h-1zM10 4h1v1h-1zM25 4h1v1h-1zM15 5h1v1h-1zM8 6h1v1h-1zM16 6h1v1h-1zM21 6h1v1h-1zM24 6h1v1h-1zM29 6h1v1h-1zM32 6h1v1h-1zM2 7h1v1h-1zM5 7h1v1h-1zM20 7h1v1h-1zM33 7h1v1h-1zM37 7h1v1h-1zM9 8h2v1h-2zM26 8h2v1h-2zM29 8h1v1h-1zM31 8h1v1h-1zM37 8h1v1h-1zM0 9h2v1h-2zM16 9h1v1h-1zM31 9h1v1h-1zM40 9h2v1h-2zM2 11h1v1h-1zM11 11h1v1h-1zM27 11h1v1h-1zM36 11h1v1h-1zM7 12h1v1h-1zM14 12h1v1h-1zM11 13h1v1h-1zM27 13h1v1h-1zM31 13h1v1h-1zM51 13h2v1h-2zM6 14h1v1h-1zM22 14h1v1h-1zM36 14h1v1h-1zM44 14h1v1h-1zM18 15h1v1h-1zM22 15h1v1h-1zM39 15h1v1h-1zM45 15h1v1h-1zM51 15h2v1h-2zM8 16h1v1h-1zM18 16h3v1h-3zM23 16h1v1h-1zM46 16h1v1h-1zM10 17h1v1h-1zM19 17h1v1h-1zM40 17h1v1h-1zM50 18h1v1h-1zM2 19h1v1h-1zM14 19h1v1h-1zM19 19h1v1h-1zM31 19h1v1h-1zM33 19h1v1h-1zM43 19h1v1h-1zM45 19h1v1h-1zM20 20h1v1h-1zM23 20h1v1h-1zM31 20h1v1h-1zM45 20h1v1h-1zM5 21h1v1h-1zM44 21h1v1h-1zM46 21h1v1h-1zM10 22h1v1h-1zM22 22h1v1h-1zM27 22h1v1h-1zM31 22h1v1h-1zM40 22h1v1h-1zM7 23h1v1h-1zM11 23h1v1h-1zM25 23h1v1h-1zM5 24h1v1h-1zM7 25h1v1h-1zM48 25h1v1h-1zM6 26h1v1h-1zM40 26h1v1h-1zM25 28h1v1h-1zM38 28h2v1h-2zM7 29h1v1h-1zM19 29h2v1h-2zM38 29h1v1h-1zM40 29h1v1h-1zM50 29h1v1h-1zM13 30h1v1h-1zM41 30h1v1h-1zM49 30h1v1h-1zM46 31h1v1h-1zM13 32h1v1h-1zM9 33h1v1h-1zM22 33h1v1h-1zM30 33h1v1h-1zM5 34h1v1h-1zM13 34h1v1h-1zM17 34h1v1h-1zM11 35h1v1h-1zM21 35h2v1h-2zM25 36h1v1h-1zM29 36h1v1h-1zM22 37h1v1h-1zM23 38h1v1h-1zM31 38h1v1h-1zM16 39h1v1h-1zM28 39h1v1h-1zM33 39h1v1h-1zM45 39h1v1h-1zM45 40h1v1h-1zM47 40h1v1h-1zM7 41h1v1h-1zM0 42h2v1h-2zM9 42h1v1h-1zM40 42h1v1h-1zM49 43h1v1h-1zM0 44h2v1h-2zM19 44h1v1h-1zM28 44h1v1h-1zM2 45h1v1h-1zM47 45h1v1h-1zM49 45h1v1h-1zM7 46h1v1h-1zM15 47h1v1h-1zM23 47h1v1h-1zM51 47h2v1h-2zM24 48h1v1h-1zM37 48h1v1h-1zM43 48h1v1h-1zM45 48h1v1h-1zM49 48h1v1h-1zM51 48h2v1h-2zM14 49h1v1h-1zM38 49h1v1h-1zM32 50h1v1h-1zM32 51h1v1h-1z"/>
<path fill="#075fbd" d="M18 4h1v1h-1zM20 4h1v1h-1zM10 5h1v1h-1zM0 6h3v1h-3zM23 6h1v1h-1zM21 7h1v1h-1zM23 7h1v1h-1zM27 7h1v1h-1zM0 8h2v1h-2zM18 8h1v1h-1zM6 10h3v1h-3zM12 10h1v1h-1zM24 10h1v1h-1zM26 10h1v1h-1zM36 10h1v1h-1zM40 10h1v1h-1zM15 11h1v1h-1zM20 11h1v1h-1zM35 11h1v1h-1zM17 12h1v1h-1zM50 12h1v1h-1zM6 13h2v1h-2zM37 13h1v1h-1zM13 14h1v1h-1zM21 14h1v1h-1zM34 14h1v1h-1zM41 14h1v1h-1zM0 15h2v1h-2zM8 15h1v1h-1zM15 15h1v1h-1zM20 15h1v1h-1zM28 15h1v1h-1zM31 15h1v1h-1zM41 15h1v1h-1zM9 16h2v1h-2zM37 16h1v1h-1zM45 16h1v1h-1zM4 17h1v1h-1zM12 17h1v1h-1zM18 17h1v1h-1zM24 17h1v1h-1zM28 17h1v1h-1zM3 18h1v1h-1zM7 18h2v1h-2zM12 18h1v1h-1zM23 18h1v1h-1zM30 18h1v1h-1zM39 18h1v1h-1zM45 18h1v1h-1zM15 19h1v1h-1zM23 19h2v1h-2zM28 19h1v1h-1zM46 19h2v1h-2zM2 20h1v1h-1zM4 20h1v1h-1zM29 20h1v1h-1zM42 20h1v1h-1zM44 20h1v1h-1zM7 21h1v1h-1zM20 21h1v1h-1zM43 21h1v1h-1zM4 22h1v1h-1zM6 22h1v1h-1zM9 22h1v1h-1zM23 22h2v1h-2zM32 22h2v1h-2zM35 22h1v1h-1zM6 23h1v1h-1zM26 23h1v1h-1zM29 23h1v1h-1zM37 23h1v1h-1zM24 24h1v1h-1zM30 24h1v1h-1zM40 24h1v1h-1zM47 24h1v1h-1zM50 24h1v1h-1zM4 25h1v1h-1zM28 25h1v1h-1zM34 25h1v1h-1zM46 25h1v1h-1zM7 26h2v1h-2zM2 27h1v1h-1zM22 27h3v1h-3zM51 27h2v1h-2zM3 28h1v1h-1zM7 28h1v1h-1zM23 28h1v1h-1zM29 28h1v1h-1zM34 28h1v1h-1zM9 29h1v1h-1zM39 29h1v1h-1zM6 30h1v1h-1zM11 30h1v1h-1zM18 30h1v1h-1zM22 30h1v1h-1zM30 30h1v1h-1zM2 31h1v1h-1zM6 31h1v1h-1zM19 31h1v1h-1zM21 31h1v1h-1zM23 31h1v1h-1zM31 31h1v1h-1zM37 31h1v1h-1zM9 32h1v1h-1zM20 32h1v1h-1zM44 32h1v1h-1zM49 32h1v1h-1zM17 33h1v1h-1zM34 33h1v1h-1zM0 34h2v1h-2zM15 34h1v1h-1zM29 34h1v1h-1zM40 34h1v1h-1zM0 35h2v1h-2zM6 35h1v1h-1zM14 36h1v1h-1zM19 36h1v1h-1zM44 37h1v1h-1zM3 38h2v1h-2zM11 38h1v1h-1zM15 38h1v1h-1zM36 38h1v1h-1zM23 39h1v1h-1zM36 39h1v1h-1zM3 40h1v1h-1zM4 41h1v1h-1zM22 41h1v1h-1zM27 41h2v1h-2zM50 41h1v1h-1zM46 42h1v1h-1zM18 43h1v1h-1zM27 43h1v1h-1zM48 43h1v1h-1zM10 44h1v1h-1zM3 45h1v1h-1zM9 45h1v1h-1zM18 45h1v1h-1zM28 45h1v1h-1zM36 45h1v1h-1zM39 45h1v1h-1zM45 45h1v1h-1zM28 46h1v1h-1zM49 46h1v1h-1zM26 47h1v1h-1zM46 47h1v1h-1zM48 47h1v1h-1zM50 47h1v1h-1zM2 48h1v1h-1zM12 48h1v1h-1zM26 48h1v1h-1zM6 49h1v1h-1zM9 49h1v1h-1zM33 49h1v1h-1zM11 50h1v1h-1zM22 50h1v1h-1zM29 50h1v1h-1zM11 51h1v1h-1zM22 51h1v1h-1zM29 51h1v1h-1z"/>
<path fill="#0868ca" d="M4 3h1v1h-1zM21 4h1v1h-1zM30 4h1v1h-1zM11 5h1v1h-1zM22 5h1v1h-1zM4 6h1v1h-1zM6 6h1v1h-1zM17 6h1v1h-1zM20 6h1v1h-1zM12 7h1v1h-1zM17 7h2v1h-2zM34 7h1v1h-1zM4 8h1v1h-1zM24 8h1v1h-1zM34 8h2v1h-2zM38 8h1v1h-1zM13 9h2v1h-2zM21 9h1v1h-1zM27 9h1v1h-1zM33 9h1v1h-1zM17 10h1v1h-1zM20 10h1v1h-1zM0 11h2v1h-2zM21 11h1v1h-1zM31 12h1v1h-1zM33 12h1v1h-1zM37 12h1v1h-1zM2 13h2v1h-2zM15 13h1v1h-1zM19 13h1v1h-1zM29 13h1v1h-1zM42 13h1v1h-1zM24 14h1v1h-1zM35 14h1v1h-1zM6 15h1v1h-1zM13 15h1v1h-1zM29 15h2v1h-2zM33 15h1v1h-1zM41 16h1v1h-1zM51 16h2v1h-2zM25 17h1v1h-1zM24 18h1v1h-1zM21 19h1v1h-1zM30 19h1v1h-1zM41 19h1v1h-1zM22 20h1v1h-1zM25 20h1v1h-1zM27 20h1v1h-1zM32 20h1v1h-1zM36 20h3v1h-3zM50 20h1v1h-1zM4 21h1v1h-1zM24 21h1v1h-1zM51 21h2v1h-2zM7 22h1v1h-1zM34 22h1v1h-1zM8 23h1v1h-1zM23 23h2v1h-2zM30 23h1v1h-1zM39 23h1v1h-1zM41 23h1v1h-1zM47 23h1v1h-1zM21 24h1v1h-1zM27 24h1v1h-1zM34 24h1v1h-1zM39 24h1v1h-1zM48 24h1v1h-1zM51 24h2v1h-2zM3 25h1v1h-1zM25 25h1v1h-1zM32 25h1v1h-1zM35 25h1v1h-1zM50 25h1v1h-1zM48 26h1v1h-1zM4 27h1v1h-1zM6 27h2v1h-2zM32 27h2v1h-2zM38 27h1v1h-1zM26 28h1v1h-1zM32 28h1v1h-1zM43 28h1v1h-1zM50 28h1v1h-1zM42 29h1v1h-1zM0 30h2v1h-2zM24 30h1v1h-1zM26 30h1v1h-1zM39 30h1v1h-1zM46 30h1v1h-1zM50 30h1v1h-1zM5 31h1v1h-1zM11 31h1v1h-1zM14 31h2v1h-2zM35 31h1v1h-1zM40 31h1v1h-1zM43 31h1v1h-1zM47 31h2v1h-2zM50 31h1v1h-1zM22 32h1v1h-1zM27 32h1v1h-1zM29 32h1v1h-1zM31 32h1v1h-1zM40 32h1v1h-1zM12 33h1v1h-1zM18 33h1v1h-1zM23 33h1v1h-1zM20 34h1v1h-1zM23 34h2v1h-2zM39 34h1v1h-1zM3 35h1v1h-1zM9 35h1v1h-1zM25 35h1v1h-1zM27 35h1v1h-1zM32 35h1v1h-1zM43 35h1v1h-1zM50 35h1v1h-1zM17 36h1v1h-1zM48 37h2v1h-2zM21 38h1v1h-1zM39 38h1v1h-1zM3 39h1v1h-1zM6 39h1v1h-1zM9 39h1v1h-1zM15 39h1v1h-1zM24 39h1v1h-1zM30 39h1v1h-1zM46 39h1v1h-1zM50 39h1v1h-1zM17 40h1v1h-1zM40 40h1v1h-1zM48 40h1v1h-1zM48 41h1v1h-1zM13 42h1v1h-1zM35 43h1v1h-1zM44 43h1v1h-1zM47 43h1v1h-1zM34 46h1v1h-1zM0 47h2v1h-2zM12 47h1v1h-1zM28 47h1v1h-1zM36 47h1v1h-1zM3 48h1v1h-1zM38 48h1v1h-1zM48 48h1v1h-1zM23 49h1v1h-1zM45 49h1v1h-1zM9 50h1v1h-1zM14 50h1v1h-1zM34 50h1v1h-1zM47 50h1v1h-1zM9 51h1v1h-1zM14 51h1v1h-1zM34 51h1v1h-1zM47 51h1v1h-1z"/>
<path fill="#086dd2" d="M2 4h1v1h-1zM0 5h2v1h-2zM19 5h2v1h-2zM3 6h1v1h-1zM12 6h1v1h-1zM27 6h1v1h-1zM0 7h2v1h-2zM3 7h1v1h-1zM29 7h1v1h-1zM16 8h1v1h-1zM22 8h1v1h-1zM33 8h1v1h-1zM2 9h3v1h-3zM8 9h1v1h-1zM22 9h1v1h-1zM36 9h1v1h-1zM5 10h1v1h-1zM16 10h1v1h-1zM18 10h1v1h-1zM22 10h1v1h-1zM25 10h1v1h-1zM28 10h2v1h-2zM33 10h1v1h-1zM37 10h1v1h-1zM23 11h1v1h-1zM29 11h1v1h-1zM34 11h1v1h-1zM39 11h1v1h-1zM0 12h2v1h-2zM21 12h1v1h-1zM24 12h1v1h-1zM16 13h1v1h-1zM14 14h1v1h-1zM17 14h1v1h-1zM27 15h1v1h-1zM38 15h1v1h-1zM40 15h1v1h-1zM0 16h2v1h-2zM28 16h1v1h-1zM35 16h2v1h-2zM11 17h1v1h-1zM38 17h1v1h-1zM4 18h1v1h-1zM32 18h1v1h-1zM34 18h1v1h-1zM49 18h1v1h-1zM34 19h1v1h-1zM49 19h1v1h-1zM6 20h1v1h-1zM34 20h1v1h-1zM8 21h2v1h-2zM0 22h2v1h-2zM25 22h1v1h-1zM49 22h1v1h-1zM3 23h2v1h-2zM40 23h1v1h-1zM48 23h1v1h-1zM50 23h3v1h-3zM0 24h3v1h-3zM22 24h2v1h-2zM36 24h1v1h-1zM46 24h1v1h-1zM30 25h1v1h-1zM40 25h1v1h-1zM47 25h1v1h-1zM0 26h2v1h-2zM20 26h1v1h-1zM23 26h1v1h-1zM31 26h1v1h-1zM2 28h1v1h-1zM5 28h1v1h-1zM28 28h1v1h-1zM40 28h2v1h-2zM29 29h1v1h-1zM23 30h1v1h-1zM47 30h1v1h-1zM20 31h1v1h-1zM24 31h1v1h-1zM29 31h1v1h-1zM41 31h1v1h-1zM45 32h1v1h-1zM48 32h1v1h-1zM0 33h2v1h-2zM11 33h1v1h-1zM21 33h1v1h-1zM24 33h1v1h-1zM37 33h1v1h-1zM47 33h1v1h-1zM8 34h2v1h-2zM11 34h1v1h-1zM26 34h1v1h-1zM38 34h1v1h-1zM12 35h1v1h-1zM19 35h1v1h-1zM46 35h1v1h-1zM48 35h1v1h-1zM23 36h1v1h-1zM35 36h1v1h-1zM42 36h2v1h-2zM7 37h1v1h-1zM10 37h1v1h-1zM19 37h1v1h-1zM26 37h1v1h-1zM29 37h1v1h-1zM46 37h1v1h-1zM50 37h1v1h-1zM0 38h2v1h-2zM17 38h1v1h-1zM27 38h1v1h-1zM35 38h1v1h-1zM49 38h1v1h-1zM10 39h1v1h-1zM31 39h1v1h-1zM48 39h1v1h-1zM51 39h2v1h-2zM13 40h1v1h-1zM35 40h2v1h-2zM46 40h1v1h-1zM51 40h2v1h-2zM3 41h1v1h-1zM47 41h1v1h-1zM51 41h2v1h-2zM8 42h1v1h-1zM14 42h2v1h-2zM28 42h1v1h-1zM41 42h1v1h-1zM43 42h1v1h-1zM17 43h1v1h-1zM20 43h1v1h-1zM36 43h1v1h-1zM41 43h1v1h-1zM3 44h1v1h-1zM40 44h1v1h-1zM47 44h1v1h-1zM20 45h1v1h-1zM22 45h1v1h-1zM30 45h2v1h-2zM40 45h1v1h-1zM13 46h1v1h-1zM37 46h1v1h-1zM40 46h1v1h-1zM48 46h1v1h-1zM7 47h1v1h-1zM29 47h1v1h-1zM31 47h1v1h-1zM37 47h2v1h-2zM45 47h1v1h-1zM13 48h1v1h-1zM44 48h1v1h-1zM4 49h1v1h-1zM26 49h1v1h-1zM32 49h1v1h-1zM3 50h1v1h-1zM50 50h1v1h-1zM3 51h1v1h-1zM50 51h1v1h-1z"/>
<path fill="#0972d9" d="M17 4h1v1h-1zM7 5h2v1h-2zM5 6h1v1h-1zM15 6h1v1h-1zM16 7h1v1h-1zM20 8h1v1h-1zM25 8h1v1h-1zM32 8h1v1h-1zM12 9h1v1h-1zM28 9h1v1h-1zM30 9h1v1h-1zM35 9h1v1h-1zM37 9h1v1h-1zM3 10h1v1h-1zM27 10h1v1h-1zM33 11h1v1h-1zM40 11h1v1h-1zM5 12h1v1h-1zM15 12h1v1h-1zM5 13h1v1h-1zM36 13h1v1h-1zM30 14h1v1h-1zM19 15h1v1h-1zM38 16h1v1h-1zM5 17h1v1h-1zM30 17h1v1h-1zM32 17h2v1h-2zM46 17h1v1h-1zM41 18h1v1h-1zM25 19h1v1h-1zM37 19h1v1h-1zM48 19h1v1h-1zM3 20h1v1h-1zM30 20h1v1h-1zM41 20h1v1h-1zM46 20h1v1h-1zM51 20h2v1h-2zM33 21h1v1h-1zM39 21h1v1h-1zM2 22h1v1h-1zM36 22h1v1h-1zM38 22h2v1h-2zM44 22h1v1h-1zM33 23h1v1h-1zM28 24h1v1h-1zM35 24h1v1h-1zM45 24h1v1h-1zM41 25h1v1h-1zM49 25h1v1h-1zM36 26h1v1h-1zM47 26h1v1h-1zM49 26h1v1h-1zM8 27h1v1h-1zM27 27h1v1h-1zM31 27h1v1h-1zM31 28h1v1h-1zM46 28h1v1h-1zM5 29h1v1h-1zM43 29h1v1h-1zM8 30h1v1h-1zM21 30h1v1h-1zM25 30h1v1h-1zM29 30h1v1h-1zM43 30h2v1h-2zM48 30h1v1h-1zM0 31h2v1h-2zM4 31h1v1h-1zM30 31h1v1h-1zM34 31h1v1h-1zM36 31h1v1h-1zM42 31h1v1h-1zM3 32h1v1h-1zM50 32h1v1h-1zM40 33h1v1h-1zM51 33h2v1h-2zM10 34h1v1h-1zM25 34h1v1h-1zM35 34h1v1h-1zM7 35h1v1h-1zM10 35h1v1h-1zM20 35h1v1h-1zM28 35h1v1h-1zM35 35h1v1h-1zM40 35h1v1h-1zM2 36h1v1h-1zM4 36h1v1h-1zM8 36h1v1h-1zM13 36h1v1h-1zM37 36h1v1h-1zM44 36h1v1h-1zM18 37h1v1h-1zM33 37h1v1h-1zM42 37h1v1h-1zM47 37h1v1h-1zM19 38h2v1h-2zM37 38h1v1h-1zM44 38h1v1h-1zM25 39h1v1h-1zM29 39h1v1h-1zM37 39h2v1h-2zM5 40h2v1h-2zM9 40h1v1h-1zM21 40h1v1h-1zM6 41h1v1h-1zM8 41h1v1h-1zM13 41h1v1h-1zM37 41h1v1h-1zM41 41h2v1h-2zM19 42h1v1h-1zM26 42h2v1h-2zM13 43h1v1h-1zM22 43h1v1h-1zM40 43h1v1h-1zM46 43h1v1h-1zM11 44h1v1h-1zM42 44h1v1h-1zM27 45h1v1h-1zM38 45h1v1h-1zM43 45h1v1h-1zM5 46h1v1h-1zM15 46h2v1h-2zM33 46h1v1h-1zM39 46h1v1h-1zM27 47h1v1h-1zM39 47h2v1h-2zM44 47h1v1h-1zM7 49h1v1h-1zM10 49h1v1h-1zM12 49h1v1h-1zM42 49h1v1h-1zM44 49h1v1h-1zM51 49h2v1h-2zM4 50h1v1h-1zM8 50h1v1h-1zM4 51h1v1h-1zM8 51h1v1h-1z"/>
<path fill="#0976df" d="M32 7h1v1h-1zM15 8h1v1h-1zM9 9h1v1h-1zM32 9h1v1h-1zM9 10h1v1h-1zM15 10h1v1h-1zM34 10h1v1h-1zM5 11h1v1h-1zM22 11h1v1h-1zM28 12h1v1h-1zM35 12h1v1h-1zM38 12h1v1h-1zM0 13h2v1h-2zM14 13h1v1h-1zM33 13h2v1h-2zM28 14h1v1h-1zM31 14h2v1h-2zM40 14h1v1h-1zM9 15h1v1h-1zM25 15h1v1h-1zM35 15h1v1h-1zM6 16h1v1h-1zM21 16h1v1h-1zM24 16h1v1h-1zM29 16h2v1h-2zM3 17h1v1h-1zM36 17h2v1h-2zM2 18h1v1h-1zM26 18h1v1h-1zM29 18h1v1h-1zM38 18h1v1h-1zM4 19h1v1h-1zM7 19h1v1h-1zM26 19h1v1h-1zM33 20h1v1h-1zM6 21h1v1h-1zM37 21h2v1h-2zM45 21h1v1h-1zM47 21h1v1h-1zM50 22h1v1h-1zM2 23h1v1h-1zM8 24h1v1h-1zM26 25h1v1h-1zM38 25h1v1h-1zM4 26h1v1h-1zM33 26h2v1h-2zM38 26h1v1h-1zM46 26h1v1h-1zM50 26h1v1h-1zM26 27h1v1h-1zM34 27h2v1h-2zM42 27h1v1h-1zM45 27h1v1h-1zM47 27h1v1h-1zM36 28h1v1h-1zM42 28h1v1h-1zM28 29h1v1h-1zM30 29h1v1h-1zM33 30h1v1h-1zM36 30h1v1h-1zM39 31h1v1h-1zM49 31h1v1h-1zM8 32h1v1h-1zM2 33h2v1h-2zM6 33h1v1h-1zM8 33h1v1h-1zM15 33h1v1h-1zM26 33h1v1h-1zM32 33h1v1h-1zM39 33h1v1h-1zM43 33h1v1h-1zM44 34h1v1h-1zM5 35h1v1h-1zM15 35h1v1h-1zM38 35h1v1h-1zM47 35h1v1h-1zM15 36h1v1h-1zM50 36h1v1h-1zM23 37h1v1h-1zM38 37h1v1h-1zM45 37h1v1h-1zM6 38h1v1h-1zM9 38h1v1h-1zM16 38h1v1h-1zM14 39h1v1h-1zM27 39h1v1h-1zM34 39h1v1h-1zM41 39h2v1h-2zM0 40h2v1h-2zM20 40h1v1h-1zM23 40h1v1h-1zM31 40h1v1h-1zM38 40h1v1h-1zM41 40h2v1h-2zM50 40h1v1h-1zM14 41h1v1h-1zM2 42h1v1h-1zM5 42h1v1h-1zM21 42h1v1h-1zM34 42h1v1h-1zM29 43h1v1h-1zM39 43h1v1h-1zM43 43h1v1h-1zM7 44h1v1h-1zM26 44h1v1h-1zM29 44h1v1h-1zM33 44h1v1h-1zM43 44h2v1h-2zM50 44h1v1h-1zM33 45h1v1h-1zM41 45h1v1h-1zM48 45h1v1h-1zM14 46h1v1h-1zM46 46h1v1h-1zM4 47h2v1h-2zM11 47h1v1h-1zM16 47h1v1h-1zM19 47h1v1h-1zM47 47h1v1h-1zM14 48h1v1h-1zM19 48h1v1h-1zM23 48h1v1h-1zM29 48h1v1h-1zM39 48h1v1h-1zM47 48h1v1h-1zM2 49h1v1h-1zM5 49h1v1h-1zM18 49h1v1h-1zM35 49h1v1h-1zM6 50h1v1h-1zM18 50h2v1h-2zM6 51h1v1h-1zM18 51h2v1h-2z"/>
<path fill="#0a7be6" d="M19 6h1v1h-1zM20 9h1v1h-1zM25 9h1v1h-1zM9 11h1v1h-1zM24 11h1v1h-1zM28 11h1v1h-1zM29 12h1v1h-1zM40 12h1v1h-1zM5 14h1v1h-1zM38 14h1v1h-1zM3 15h1v1h-1zM31 16h1v1h-1zM27 19h1v1h-1zM32 19h1v1h-1zM5 20h1v1h-1zM7 20h1v1h-1zM43 20h1v1h-1zM48 20h1v1h-1zM0 21h2v1h-2zM30 21h1v1h-1zM32 21h1v1h-1zM41 21h1v1h-1zM43 22h1v1h-1zM45 22h3v1h-3zM32 23h1v1h-1zM38 23h1v1h-1zM49 24h1v1h-1zM39 25h1v1h-1zM44 25h1v1h-1zM51 25h2v1h-2zM27 26h1v1h-1zM37 26h1v1h-1zM41 26h1v1h-1zM45 26h1v1h-1zM5 27h1v1h-1zM35 28h1v1h-1zM44 28h1v1h-1zM6 29h1v1h-1zM33 29h1v1h-1zM35 29h1v1h-1zM46 29h1v1h-1zM4 30h2v1h-2zM27 30h1v1h-1zM34 30h2v1h-2zM51 32h2v1h-2zM50 33h1v1h-1zM3 34h1v1h-1zM12 34h1v1h-1zM21 34h1v1h-1zM28 34h1v1h-1zM34 34h1v1h-1zM45 34h1v1h-1zM49 34h1v1h-1zM31 35h1v1h-1zM41 35h2v1h-2zM3 36h1v1h-1zM21 36h1v1h-1zM40 36h1v1h-1zM4 37h2v1h-2zM28 37h1v1h-1zM32 37h1v1h-1zM34 37h4v1h-4zM40 37h1v1h-1zM2 38h1v1h-1zM7 38h1v1h-1zM22 38h1v1h-1zM28 38h1v1h-1zM8 39h1v1h-1zM19 39h1v1h-1zM22 39h1v1h-1zM39 39h1v1h-1zM15 40h1v1h-1zM18 40h1v1h-1zM27 40h1v1h-1zM30 40h1v1h-1zM37 40h1v1h-1zM43 40h1v1h-1zM33 41h1v1h-1zM22 42h1v1h-1zM2 43h1v1h-1zM5 43h2v1h-2zM8 43h1v1h-1zM14 43h2v1h-2zM13 44h1v1h-1zM18 44h1v1h-1zM25 44h1v1h-1zM36 44h1v1h-1zM19 45h1v1h-1zM3 46h1v1h-1zM9 46h1v1h-1zM21 46h1v1h-1zM32 46h1v1h-1zM36 46h1v1h-1zM43 46h1v1h-1zM47 46h1v1h-1zM32 47h1v1h-1zM41 47h1v1h-1zM30 48h1v1h-1zM11 49h1v1h-1zM46 49h1v1h-1zM0 50h2v1h-2zM39 50h2v1h-2zM44 50h1v1h-1zM0 51h2v1h-2zM39 51h2v1h-2zM44 51h1v1h-1z"/>
<path fill="#0c7fea" d="M4 7h1v1h-1zM19 7h1v1h-1zM30 8h1v1h-1zM30 10h1v1h-1zM25 11h1v1h-1zM35 13h1v1h-1zM2 15h1v1h-1zM2 16h1v1h-1zM27 16h1v1h-1zM35 19h2v1h-2zM0 20h2v1h-2zM28 21h1v1h-1zM40 21h1v1h-1zM49 21h1v1h-1zM37 22h1v1h-1zM0 23h2v1h-2zM35 23h1v1h-1zM46 23h1v1h-1zM32 24h1v1h-1zM36 25h1v1h-1zM2 26h1v1h-1zM28 26h1v1h-1zM4 28h1v1h-1zM45 28h1v1h-1zM51 28h2v1h-2zM25 29h1v1h-1zM34 29h1v1h-1zM8 31h1v1h-1zM28 31h1v1h-1zM45 31h1v1h-1zM2 32h1v1h-1zM36 32h1v1h-1zM10 33h1v1h-1zM29 33h1v1h-1zM33 33h1v1h-1zM36 33h1v1h-1zM44 33h1v1h-1zM46 33h1v1h-1zM48 33h1v1h-1zM27 34h1v1h-1zM50 34h1v1h-1zM18 35h1v1h-1zM33 35h1v1h-1zM44 35h1v1h-1zM34 36h1v1h-1zM38 36h1v1h-1zM47 36h1v1h-1zM16 37h1v1h-1zM24 37h1v1h-1zM5 38h1v1h-1zM18 38h1v1h-1zM25 38h1v1h-1zM34 38h1v1h-1zM51 38h2v1h-2zM5 39h1v1h-1zM2 40h1v1h-1zM8 40h1v1h-1zM11 40h1v1h-1zM19 40h1v1h-1zM22 40h1v1h-1zM34 40h1v1h-1zM2 41h1v1h-1zM5 41h1v1h-1zM18 41h1v1h-1zM36 41h1v1h-1zM51 42h2v1h-2zM16 43h1v1h-1zM24 43h1v1h-1zM4 44h1v1h-1zM8 44h2v1h-2zM22 44h1v1h-1zM34 44h1v1h-1zM38 44h1v1h-1zM15 45h2v1h-2zM22 46h2v1h-2zM30 46h1v1h-1zM21 47h1v1h-1zM5 48h1v1h-1zM18 48h1v1h-1zM24 49h1v1h-1zM20 50h1v1h-1zM23 50h1v1h-1zM43 50h1v1h-1zM20 51h1v1h-1zM23 51h1v1h-1zM43 51h1v1h-1z"/>
<path fill="#0e83ed" d="M17 5h1v1h-1zM15 7h1v1h-1zM21 13h1v1h-1zM24 13h1v1h-1zM6 19h1v1h-1zM39 19h1v1h-1zM3 21h1v1h-1zM28 22h1v1h-1zM45 23h1v1h-1zM31 24h1v1h-1zM43 25h1v1h-1zM29 27h1v1h-1zM37 27h1v1h-1zM43 27h1v1h-1zM30 28h1v1h-1zM48 28h1v1h-1zM37 29h1v1h-1zM32 31h1v1h-1zM32 32h1v1h-1zM38 32h1v1h-1zM4 33h1v1h-1zM41 33h1v1h-1zM16 34h1v1h-1zM2 35h1v1h-1zM51 35h2v1h-2zM10 36h1v1h-1zM16 36h1v1h-1zM36 36h1v1h-1zM25 37h1v1h-1zM39 37h1v1h-1zM13 38h1v1h-1zM43 38h1v1h-1zM46 38h1v1h-1zM4 39h1v1h-1zM11 39h1v1h-1zM26 40h1v1h-1zM28 40h1v1h-1zM10 41h1v1h-1zM19 41h1v1h-1zM39 41h1v1h-1zM3 42h1v1h-1zM12 42h1v1h-1zM23 42h1v1h-1zM25 42h1v1h-1zM30 42h1v1h-1zM44 42h1v1h-1zM23 43h1v1h-1zM26 43h1v1h-1zM21 44h1v1h-1zM39 44h1v1h-1zM17 45h1v1h-1zM35 45h1v1h-1zM44 45h1v1h-1zM10 46h1v1h-1zM29 46h1v1h-1zM43 47h1v1h-1zM22 48h1v1h-1zM28 48h1v1h-1zM21 49h1v1h-1zM25 49h1v1h-1zM5 50h1v1h-1zM27 50h1v1h-1zM30 50h1v1h-1zM36 50h1v1h-1zM5 51h1v1h-1zM27 51h1v1h-1zM30 51h1v1h-1zM36 51h1v1h-1z"/>
<path fill="#1087f0" d="M35 10h1v1h-1zM26 15h1v1h-1zM31 18h1v1h-1zM36 18h2v1h-2zM38 19h1v1h-1zM2 21h1v1h-1zM43 24h1v1h-1zM37 25h1v1h-1zM44 26h1v1h-1zM6 28h1v1h-1zM33 28h1v1h-1zM45 29h1v1h-1zM3 30h1v1h-1zM31 30h1v1h-1zM45 30h1v1h-1zM38 31h1v1h-1zM51 31h2v1h-2zM4 32h1v1h-1zM6 32h1v1h-1zM30 32h1v1h-1zM39 32h1v1h-1zM41 32h1v1h-1zM43 32h1v1h-1zM5 33h1v1h-1zM14 33h1v1h-1zM2 34h1v1h-1zM4 34h1v1h-1zM33 34h1v1h-1zM37 34h1v1h-1zM47 34h1v1h-1zM34 35h1v1h-1zM49 35h1v1h-1zM9 36h1v1h-1zM49 36h1v1h-1zM51 36h2v1h-2zM2 37h1v1h-1zM9 37h1v1h-1zM29 38h1v1h-1zM18 39h1v1h-1zM21 39h1v1h-1zM49 39h1v1h-1zM25 40h1v1h-1zM0 41h2v1h-2zM23 41h1v1h-1zM25 41h1v1h-1zM17 42h1v1h-1zM21 43h1v1h-1zM25 43h1v1h-1zM15 44h1v1h-1zM23 44h1v1h-1zM31 44h1v1h-1zM37 44h1v1h-1zM5 45h1v1h-1zM14 45h1v1h-1zM11 46h1v1h-1zM17 46h1v1h-1zM25 46h1v1h-1zM44 46h1v1h-1zM3 47h1v1h-1zM10 47h1v1h-1zM20 48h1v1h-1zM27 48h1v1h-1zM22 49h1v1h-1zM34 49h1v1h-1zM36 49h1v1h-1z"/>
<path fill="#138af3" d="M4 13h1v1h-1zM25 13h1v1h-1zM32 13h1v1h-1zM29 17h1v1h-1zM3 19h1v1h-1zM37 24h2v1h-2zM45 25h1v1h-1zM39 26h1v1h-1zM40 27h1v1h-1zM27 28h1v1h-1zM37 28h1v1h-1zM2 29h1v1h-1zM4 29h1v1h-1zM42 33h1v1h-1zM6 34h2v1h-2zM43 34h1v1h-1zM5 36h1v1h-1zM32 36h2v1h-2zM0 37h2v1h-2zM51 37h2v1h-2zM32 38h1v1h-1zM40 38h1v1h-1zM20 39h1v1h-1zM11 41h1v1h-1zM34 41h1v1h-1zM32 42h1v1h-1zM35 42h1v1h-1zM4 43h1v1h-1zM12 43h1v1h-1zM19 43h1v1h-1zM32 44h1v1h-1zM26 45h1v1h-1zM32 45h1v1h-1zM6 46h1v1h-1zM24 46h1v1h-1zM27 46h1v1h-1zM7 48h1v1h-1zM9 48h1v1h-1zM41 48h1v1h-1zM0 49h2v1h-2zM3 49h1v1h-1zM8 49h1v1h-1zM13 49h1v1h-1zM15 49h1v1h-1zM28 50h1v1h-1zM28 51h1v1h-1z"/>
<path fill="#158ff6" d="M35 20h1v1h-1zM51 22h2v1h-2zM31 23h1v1h-1zM36 23h1v1h-1zM44 24h1v1h-1zM3 27h1v1h-1zM0 28h2v1h-2zM49 29h1v1h-1zM47 32h1v1h-1zM19 33h1v1h-1zM28 33h1v1h-1zM45 33h1v1h-1zM16 35h1v1h-1zM29 35h2v1h-2zM12 36h1v1h-1zM39 36h1v1h-1zM31 37h1v1h-1zM12 40h1v1h-1zM9 41h1v1h-1zM31 41h2v1h-2zM7 42h1v1h-1zM29 42h1v1h-1zM2 44h1v1h-1zM6 44h1v1h-1zM41 44h1v1h-1zM6 45h1v1h-1zM21 45h1v1h-1zM24 45h1v1h-1zM29 45h1v1h-1zM18 46h1v1h-1zM35 46h1v1h-1zM24 47h1v1h-1zM8 48h1v1h-1zM16 48h1v1h-1zM33 48h1v1h-1zM7 50h1v1h-1zM17 50h1v1h-1zM41 50h1v1h-1zM7 51h1v1h-1zM17 51h1v1h-1zM41 51h1v1h-1z"/>
<path fill="#1792f9" d="M0 27h2v1h-2zM41 29h1v1h-1zM51 29h2v1h-2zM37 30h1v1h-1zM51 30h2v1h-2zM33 32h1v1h-1zM41 36h1v1h-1zM6 37h1v1h-1zM8 37h1v1h-1zM16 40h1v1h-1zM38 41h1v1h-1zM31 42h1v1h-1zM0 43h2v1h-2zM5 44h1v1h-1zM17 44h1v1h-1zM20 44h1v1h-1zM10 45h2v1h-2zM20 46h1v1h-1zM11 48h1v1h-1zM35 48h1v1h-1zM16 49h1v1h-1zM33 50h1v1h-1zM33 51h1v1h-1z"/>
<path fill="#1a96fc" d="M39 16h1v1h-1zM0 17h2v1h-2zM5 18h1v1h-1zM35 26h1v1h-1zM39 27h1v1h-1zM3 29h1v1h-1zM7 31h1v1h-1zM42 32h1v1h-1zM35 33h1v1h-1zM13 37h1v1h-1zM43 39h1v1h-1zM12 41h1v1h-1zM17 41h1v1h-1zM21 41h1v1h-1zM39 42h1v1h-1zM11 43h1v1h-1zM0 46h3v1h-3zM38 46h1v1h-1zM30 47h1v1h-1zM15 48h1v1h-1zM31 48h1v1h-1zM34 48h1v1h-1zM17 49h1v1h-1z"/>
<path fill="#1c9aff" d="M28 13h1v1h-1zM3 22h1v1h-1zM36 27h1v1h-1zM38 30h1v1h-1zM30 34h1v1h-1zM8 35h1v1h-1zM39 35h1v1h-1zM0 36h2v1h-2zM3 37h1v1h-1zM41 37h1v1h-1zM13 39h1v1h-1zM32 39h1v1h-1zM35 39h1v1h-1zM4 40h1v1h-1zM7 40h1v1h-1zM10 40h1v1h-1zM33 40h1v1h-1zM20 41h1v1h-1zM29 41h1v1h-1zM35 41h1v1h-1zM9 43h2v1h-2zM30 43h1v1h-1zM33 43h1v1h-1zM12 44h1v1h-1zM14 44h1v1h-1zM16 44h1v1h-1zM4 45h1v1h-1zM25 45h1v1h-1zM4 46h1v1h-1zM6 47h1v1h-1zM4 48h1v1h-1zM6 48h1v1h-1zM17 48h1v1h-1zM21 48h1v1h-1zM32 48h1v1h-1zM36 48h1v1h-1zM41 49h1v1h-1zM10 50h1v1h-1zM13 50h1v1h-1zM15 50h1v1h-1zM24 50h1v1h-1zM26 50h1v1h-1zM10 51h1v1h-1zM13 51h1v1h-1zM15 51h1v1h-1zM24 51h1v1h-1zM26 51h1v1h-1z"/>
</g></g>
</g>
<g clip-path="url(#clipB)"><g fill="none" stroke="#f4b183" stroke-width="3.5" stroke-dasharray="10.4 4.4" stroke-linecap="butt">
<ellipse cx="485.6" cy="194.1" rx="39" ry="57" transform="rotate(-26.6 485.6 194.1)"/>
<circle cx="611.3" cy="127.8" r="25.9" stroke-dashoffset="5.2"/>
<circle cx="611.3" cy="263.5" r="25.9" stroke-dashoffset="5.2"/>
</g></g>
<rect x="408" y="278" width="58.3" height="3.7" fill="#fff"/>
<text class="ar" x="408" y="271.9" font-size="19.5" fill="#fff" text-anchor="start">10nm</text>
</g>
<g id="panel-c">
<g clip-path="url(#clipC)">
<g filter="url(#bl)"><g transform="translate(57.901,367.102) scale(4.54902,4.54800)" shape-rendering="crispEdges">
<rect width="53" height="52" fill="#f7fbff"/>
<path fill="#c3daee" d="M5 0h1v1h-1zM8 0h1v1h-1zM5 1h1v1h-1zM8 1h1v1h-1zM8 2h1v1h-1zM16 4h1v1h-1zM16 5h1v1h-1zM19 5h1v1h-1zM30 6h1v1h-1zM24 7h1v1h-1zM42 7h1v1h-1zM46 9h1v1h-1zM9 10h2v1h-2zM20 10h1v1h-1zM30 10h1v1h-1zM36 10h1v1h-1zM47 11h1v1h-1zM50 11h1v1h-1zM37 12h1v1h-1zM45 12h1v1h-1zM0 13h3v1h-3zM40 13h1v1h-1zM29 15h1v1h-1zM35 15h1v1h-1zM40 15h2v1h-2zM33 17h1v1h-1zM4 18h1v1h-1zM31 18h1v1h-1zM51 18h2v1h-2zM19 19h1v1h-1zM38 19h1v1h-1zM3 20h1v1h-1zM7 20h1v1h-1zM27 20h1v1h-1zM34 20h1v1h-1zM3 22h1v1h-1zM29 22h1v1h-1zM2 23h1v1h-1zM44 23h1v1h-1zM48 23h1v1h-1zM32 25h1v1h-1zM35 25h1v1h-1zM51 25h2v1h-2zM22 26h1v1h-1zM41 26h2v1h-2zM47 27h1v1h-1zM44 28h1v1h-1zM5 30h1v1h-1zM33 30h1v1h-1zM28 31h1v1h-1zM50 33h1v1h-1zM0 35h2v1h-2zM40 36h1v1h-1zM33 37h1v1h-1zM29 38h1v1h-1zM2 39h1v1h-1zM13 39h1v1h-1zM11 40h1v1h-1zM16 40h1v1h-1zM36 40h1v1h-1zM7 41h1v1h-1zM38 41h1v1h-1zM45 41h1v1h-1zM49 41h1v1h-1zM0 42h2v1h-2zM14 42h1v1h-1zM2 43h1v1h-1zM21 44h1v1h-1zM24 44h1v1h-1zM29 44h1v1h-1zM33 47h2v1h-2zM18 48h1v1h-1zM34 48h1v1h-1zM50 48h1v1h-1zM3 49h1v1h-1zM17 49h1v1h-1zM19 49h1v1h-1zM32 49h1v1h-1zM49 49h1v1h-1zM12 50h1v1h-1zM12 51h1v1h-1z"/>
<path fill="#b5d4e9" d="M5 3h1v1h-1zM10 4h1v1h-1zM14 4h1v1h-1zM9 5h1v1h-1zM14 5h1v1h-1zM28 6h1v1h-1zM2 7h1v1h-1zM26 7h1v1h-1zM48 7h1v1h-1zM5 8h2v1h-2zM21 8h1v1h-1zM26 8h1v1h-1zM49 8h1v1h-1zM3 9h1v1h-1zM26 9h1v1h-1zM34 9h1v1h-1zM19 10h1v1h-1zM26 10h1v1h-1zM17 11h1v1h-1zM19 11h1v1h-1zM36 11h1v1h-1zM38 11h1v1h-1zM43 11h1v1h-1zM28 12h1v1h-1zM15 13h1v1h-1zM18 13h1v1h-1zM45 13h1v1h-1zM51 13h2v1h-2zM0 14h2v1h-2zM4 14h1v1h-1zM7 14h1v1h-1zM10 14h1v1h-1zM16 14h1v1h-1zM26 14h1v1h-1zM30 14h1v1h-1zM30 15h1v1h-1zM36 15h1v1h-1zM17 16h1v1h-1zM3 17h1v1h-1zM7 17h1v1h-1zM17 17h1v1h-1zM28 17h2v1h-2zM32 17h1v1h-1zM39 17h1v1h-1zM23 18h1v1h-1zM49 18h1v1h-1zM0 19h2v1h-2zM51 19h2v1h-2zM8 20h2v1h-2zM17 20h1v1h-1zM38 20h1v1h-1zM48 20h1v1h-1zM31 21h1v1h-1zM33 21h1v1h-1zM37 21h1v1h-1zM48 22h1v1h-1zM9 23h1v1h-1zM9 24h1v1h-1zM5 25h1v1h-1zM7 25h1v1h-1zM31 25h1v1h-1zM33 25h1v1h-1zM46 25h1v1h-1zM48 25h1v1h-1zM0 26h2v1h-2zM39 26h1v1h-1zM21 27h1v1h-1zM39 27h1v1h-1zM49 27h1v1h-1zM47 28h1v1h-1zM9 29h1v1h-1zM41 29h1v1h-1zM14 30h1v1h-1zM41 30h1v1h-1zM44 30h2v1h-2zM5 31h1v1h-1zM35 31h1v1h-1zM45 31h1v1h-1zM47 31h1v1h-1zM13 32h1v1h-1zM38 32h1v1h-1zM45 32h1v1h-1zM8 33h1v1h-1zM48 33h2v1h-2zM3 34h1v1h-1zM37 34h2v1h-2zM3 35h1v1h-1zM40 35h3v1h-3zM48 35h1v1h-1zM23 36h1v1h-1zM30 36h2v1h-2zM33 36h1v1h-1zM35 36h1v1h-1zM41 36h1v1h-1zM8 37h1v1h-1zM18 37h1v1h-1zM23 37h1v1h-1zM27 37h1v1h-1zM14 38h1v1h-1zM46 38h1v1h-1zM51 38h2v1h-2zM6 39h1v1h-1zM36 39h1v1h-1zM41 39h1v1h-1zM33 41h1v1h-1zM40 41h1v1h-1zM50 41h1v1h-1zM36 42h1v1h-1zM39 42h1v1h-1zM14 43h1v1h-1zM0 44h3v1h-3zM8 44h1v1h-1zM23 44h1v1h-1zM30 44h1v1h-1zM49 44h2v1h-2zM8 45h1v1h-1zM28 45h1v1h-1zM40 45h1v1h-1zM8 46h1v1h-1zM39 46h1v1h-1zM2 48h1v1h-1zM17 48h1v1h-1zM36 48h2v1h-2zM43 48h1v1h-1zM13 49h1v1h-1zM33 49h1v1h-1zM0 50h2v1h-2zM16 50h1v1h-1zM22 50h1v1h-1zM0 51h2v1h-2zM16 51h1v1h-1zM22 51h1v1h-1z"/>
<path fill="#a6cee4" d="M21 3h1v1h-1zM3 4h1v1h-1zM11 4h1v1h-1zM21 4h1v1h-1zM30 5h1v1h-1zM6 7h1v1h-1zM38 7h1v1h-1zM3 8h1v1h-1zM31 8h1v1h-1zM23 9h1v1h-1zM43 9h1v1h-1zM48 9h1v1h-1zM34 10h1v1h-1zM40 10h1v1h-1zM49 10h1v1h-1zM6 12h1v1h-1zM16 12h1v1h-1zM18 12h1v1h-1zM27 12h1v1h-1zM7 13h1v1h-1zM22 13h2v1h-2zM28 13h1v1h-1zM3 14h1v1h-1zM8 14h1v1h-1zM29 14h1v1h-1zM42 14h1v1h-1zM33 15h1v1h-1zM43 15h1v1h-1zM15 16h2v1h-2zM0 17h2v1h-2zM31 17h1v1h-1zM0 18h2v1h-2zM5 18h2v1h-2zM27 19h1v1h-1zM50 19h1v1h-1zM16 20h1v1h-1zM28 20h1v1h-1zM51 20h2v1h-2zM4 21h1v1h-1zM43 21h1v1h-1zM48 21h1v1h-1zM33 22h1v1h-1zM36 22h1v1h-1zM25 23h1v1h-1zM27 23h1v1h-1zM32 23h2v1h-2zM36 23h1v1h-1zM38 23h1v1h-1zM49 24h2v1h-2zM29 25h1v1h-1zM37 25h1v1h-1zM40 25h1v1h-1zM24 26h1v1h-1zM33 26h1v1h-1zM35 26h1v1h-1zM41 27h1v1h-1zM35 29h2v1h-2zM39 30h1v1h-1zM47 30h1v1h-1zM36 32h1v1h-1zM22 33h1v1h-1zM28 33h1v1h-1zM33 33h1v1h-1zM35 33h1v1h-1zM5 34h1v1h-1zM28 34h1v1h-1zM41 34h1v1h-1zM49 34h1v1h-1zM45 35h1v1h-1zM3 37h2v1h-2zM42 37h1v1h-1zM46 37h1v1h-1zM5 38h1v1h-1zM23 38h2v1h-2zM34 38h1v1h-1zM10 39h1v1h-1zM40 39h1v1h-1zM7 42h1v1h-1zM11 42h1v1h-1zM21 42h1v1h-1zM50 42h3v1h-3zM38 43h1v1h-1zM7 44h1v1h-1zM31 44h1v1h-1zM9 45h2v1h-2zM39 45h1v1h-1zM18 46h1v1h-1zM26 46h1v1h-1zM13 47h1v1h-1zM29 47h1v1h-1zM43 47h1v1h-1zM5 48h1v1h-1zM14 48h1v1h-1zM25 48h1v1h-1zM29 48h1v1h-1zM38 48h1v1h-1zM0 49h2v1h-2zM16 49h1v1h-1zM22 49h1v1h-1zM13 50h1v1h-1zM17 50h1v1h-1zM21 50h1v1h-1zM42 50h1v1h-1zM49 50h1v1h-1zM13 51h1v1h-1zM17 51h1v1h-1zM21 51h1v1h-1zM42 51h1v1h-1zM49 51h1v1h-1z"/>
<path fill="#97c6df" d="M2 3h1v1h-1zM24 4h1v1h-1zM26 5h1v1h-1zM20 7h1v1h-1zM11 9h1v1h-1zM37 9h1v1h-1zM39 9h1v1h-1zM3 10h1v1h-1zM32 10h1v1h-1zM37 10h1v1h-1zM46 10h1v1h-1zM50 10h1v1h-1zM0 11h2v1h-2zM37 11h1v1h-1zM41 11h1v1h-1zM5 12h1v1h-1zM19 12h1v1h-1zM40 12h1v1h-1zM24 13h1v1h-1zM11 14h1v1h-1zM17 14h1v1h-1zM22 14h1v1h-1zM12 17h1v1h-1zM51 17h2v1h-2zM11 18h1v1h-1zM16 18h1v1h-1zM10 21h1v1h-1zM39 23h1v1h-1zM45 23h1v1h-1zM30 25h1v1h-1zM46 26h1v1h-1zM43 27h1v1h-1zM34 29h1v1h-1zM48 30h1v1h-1zM29 31h2v1h-2zM38 31h1v1h-1zM16 33h1v1h-1zM21 33h1v1h-1zM34 33h1v1h-1zM31 34h1v1h-1zM45 34h1v1h-1zM2 35h1v1h-1zM29 35h1v1h-1zM13 38h1v1h-1zM38 38h1v1h-1zM12 39h1v1h-1zM42 39h1v1h-1zM11 41h1v1h-1zM14 41h1v1h-1zM37 41h1v1h-1zM37 42h1v1h-1zM41 42h1v1h-1zM11 43h2v1h-2zM35 43h1v1h-1zM16 44h1v1h-1zM36 44h1v1h-1zM29 45h1v1h-1zM31 45h1v1h-1zM36 45h1v1h-1zM7 46h1v1h-1zM28 46h1v1h-1zM2 47h1v1h-1zM7 47h1v1h-1zM12 47h1v1h-1zM15 47h1v1h-1zM42 47h1v1h-1zM16 48h1v1h-1zM35 48h1v1h-1zM23 49h1v1h-1z"/>
<path fill="#74b3d8" d="M2 2h1v1h-1zM34 6h1v1h-1zM5 7h1v1h-1zM11 7h2v1h-2zM29 12h1v1h-1zM9 13h2v1h-2zM34 13h1v1h-1zM12 15h1v1h-1zM28 15h1v1h-1zM2 16h1v1h-1zM30 16h1v1h-1zM20 17h1v1h-1zM27 17h1v1h-1zM30 18h1v1h-1zM33 18h1v1h-1zM47 21h1v1h-1zM11 22h1v1h-1zM41 22h1v1h-1zM50 23h1v1h-1zM38 24h1v1h-1zM9 28h1v1h-1zM30 28h1v1h-1zM0 29h2v1h-2zM6 29h3v1h-3zM0 30h2v1h-2zM42 30h1v1h-1zM23 31h1v1h-1zM29 32h1v1h-1zM40 33h1v1h-1zM15 34h1v1h-1zM32 34h1v1h-1zM24 35h1v1h-1zM24 36h1v1h-1zM25 37h1v1h-1zM8 39h1v1h-1zM37 39h1v1h-1zM47 39h1v1h-1zM35 40h1v1h-1zM28 42h1v1h-1zM43 43h1v1h-1zM26 45h1v1h-1zM20 48h1v1h-1zM30 48h1v1h-1zM21 49h1v1h-1zM37 49h1v1h-1zM43 49h1v1h-1zM8 50h1v1h-1zM8 51h1v1h-1z"/>
<path fill="#64a9d3" d="M6 3h1v1h-1zM9 3h1v1h-1zM21 5h1v1h-1zM32 5h1v1h-1zM4 6h1v1h-1zM9 6h1v1h-1zM26 6h1v1h-1zM14 7h1v1h-1zM17 7h1v1h-1zM33 7h1v1h-1zM13 8h1v1h-1zM34 8h2v1h-2zM27 9h1v1h-1zM31 9h1v1h-1zM5 10h2v1h-2zM22 10h1v1h-1zM24 10h1v1h-1zM38 10h1v1h-1zM42 10h1v1h-1zM15 11h1v1h-1zM25 11h2v1h-2zM45 11h1v1h-1zM49 11h1v1h-1zM23 12h1v1h-1zM26 12h1v1h-1zM34 12h1v1h-1zM42 12h3v1h-3zM3 13h1v1h-1zM8 13h1v1h-1zM21 13h1v1h-1zM33 13h1v1h-1zM49 13h1v1h-1zM2 14h1v1h-1zM6 14h1v1h-1zM23 14h1v1h-1zM26 15h1v1h-1zM44 15h1v1h-1zM49 15h1v1h-1zM8 16h1v1h-1zM28 16h2v1h-2zM51 16h2v1h-2zM6 17h1v1h-1zM13 17h1v1h-1zM18 17h1v1h-1zM36 17h1v1h-1zM40 17h1v1h-1zM42 17h1v1h-1zM18 18h1v1h-1zM29 18h1v1h-1zM37 18h2v1h-2zM47 18h1v1h-1zM2 19h2v1h-2zM5 19h1v1h-1zM7 19h1v1h-1zM28 19h2v1h-2zM35 19h1v1h-1zM5 20h1v1h-1zM10 20h1v1h-1zM21 20h1v1h-1zM45 20h1v1h-1zM8 21h1v1h-1zM15 21h1v1h-1zM17 21h1v1h-1zM27 21h1v1h-1zM32 21h1v1h-1zM42 21h1v1h-1zM46 21h1v1h-1zM9 22h1v1h-1zM24 22h1v1h-1zM26 22h1v1h-1zM44 22h1v1h-1zM0 23h2v1h-2zM43 23h1v1h-1zM46 23h1v1h-1zM0 24h2v1h-2zM31 24h2v1h-2zM37 24h1v1h-1zM45 24h1v1h-1zM47 24h1v1h-1zM51 24h2v1h-2zM34 25h1v1h-1zM49 25h1v1h-1zM3 26h1v1h-1zM9 26h1v1h-1zM31 26h1v1h-1zM37 26h1v1h-1zM47 26h1v1h-1zM6 27h1v1h-1zM31 27h1v1h-1zM34 27h1v1h-1zM50 27h1v1h-1zM7 28h1v1h-1zM11 28h1v1h-1zM21 28h1v1h-1zM17 29h1v1h-1zM19 29h1v1h-1zM22 29h1v1h-1zM37 29h2v1h-2zM51 29h2v1h-2zM12 30h1v1h-1zM23 30h2v1h-2zM32 30h1v1h-1zM37 30h1v1h-1zM49 30h1v1h-1zM50 31h1v1h-1zM35 32h1v1h-1zM48 32h1v1h-1zM4 33h1v1h-1zM11 33h1v1h-1zM19 33h1v1h-1zM44 33h1v1h-1zM6 34h2v1h-2zM11 34h1v1h-1zM13 34h1v1h-1zM26 34h1v1h-1zM8 35h1v1h-1zM12 35h1v1h-1zM14 35h1v1h-1zM23 35h1v1h-1zM47 35h1v1h-1zM7 36h1v1h-1zM10 36h1v1h-1zM13 36h1v1h-1zM25 36h1v1h-1zM38 36h1v1h-1zM47 36h1v1h-1zM2 37h1v1h-1zM26 37h1v1h-1zM37 37h1v1h-1zM49 37h1v1h-1zM51 37h2v1h-2zM12 38h1v1h-1zM18 38h1v1h-1zM26 38h1v1h-1zM42 38h1v1h-1zM0 39h2v1h-2zM15 39h1v1h-1zM18 39h2v1h-2zM22 39h1v1h-1zM25 39h2v1h-2zM29 39h1v1h-1zM12 40h1v1h-1zM18 40h1v1h-1zM20 40h1v1h-1zM23 40h1v1h-1zM26 40h1v1h-1zM42 40h1v1h-1zM47 40h1v1h-1zM12 41h1v1h-1zM15 41h2v1h-2zM21 41h3v1h-3zM26 41h1v1h-1zM31 41h1v1h-1zM43 41h1v1h-1zM10 42h1v1h-1zM18 42h1v1h-1zM26 42h1v1h-1zM33 42h1v1h-1zM38 42h1v1h-1zM43 42h1v1h-1zM3 43h1v1h-1zM25 43h2v1h-2zM12 44h1v1h-1zM22 44h1v1h-1zM27 44h1v1h-1zM25 45h1v1h-1zM33 45h1v1h-1zM38 45h1v1h-1zM43 45h1v1h-1zM50 45h1v1h-1zM15 46h1v1h-1zM22 46h1v1h-1zM33 46h2v1h-2zM40 46h1v1h-1zM48 46h1v1h-1zM0 47h2v1h-2zM21 47h1v1h-1zM31 47h1v1h-1zM22 48h1v1h-1zM28 48h1v1h-1zM7 49h1v1h-1zM9 49h1v1h-1zM11 49h1v1h-1zM7 50h1v1h-1zM11 50h1v1h-1zM15 50h1v1h-1zM20 50h1v1h-1zM34 50h3v1h-3zM44 50h3v1h-3zM7 51h1v1h-1zM11 51h1v1h-1zM15 51h1v1h-1zM20 51h1v1h-1zM34 51h3v1h-3zM44 51h3v1h-3z"/>
<path fill="#56a0ce" d="M0 2h2v1h-2zM12 4h1v1h-1zM5 6h1v1h-1zM21 6h1v1h-1zM25 6h1v1h-1zM32 6h1v1h-1zM36 6h1v1h-1zM30 7h1v1h-1zM44 8h2v1h-2zM20 9h1v1h-1zM36 9h1v1h-1zM45 9h1v1h-1zM25 10h1v1h-1zM33 10h1v1h-1zM43 10h1v1h-1zM2 11h1v1h-1zM9 11h1v1h-1zM23 11h1v1h-1zM29 11h1v1h-1zM9 12h1v1h-1zM11 12h1v1h-1zM22 12h1v1h-1zM38 12h2v1h-2zM49 12h1v1h-1zM5 13h1v1h-1zM26 13h1v1h-1zM30 13h1v1h-1zM48 13h1v1h-1zM39 14h1v1h-1zM10 15h1v1h-1zM22 15h1v1h-1zM24 15h1v1h-1zM31 15h1v1h-1zM38 15h1v1h-1zM50 15h1v1h-1zM9 16h1v1h-1zM24 16h1v1h-1zM34 16h2v1h-2zM8 17h1v1h-1zM14 17h3v1h-3zM25 17h1v1h-1zM37 17h1v1h-1zM47 17h1v1h-1zM50 17h1v1h-1zM3 18h1v1h-1zM32 18h1v1h-1zM40 18h1v1h-1zM50 18h1v1h-1zM10 19h1v1h-1zM21 19h1v1h-1zM42 19h1v1h-1zM47 19h3v1h-3zM20 20h1v1h-1zM31 20h1v1h-1zM39 20h1v1h-1zM43 20h1v1h-1zM46 20h2v1h-2zM2 21h2v1h-2zM5 21h2v1h-2zM29 21h1v1h-1zM5 22h2v1h-2zM35 22h1v1h-1zM37 22h1v1h-1zM45 22h1v1h-1zM12 23h1v1h-1zM26 23h1v1h-1zM31 23h1v1h-1zM4 24h3v1h-3zM25 24h1v1h-1zM48 24h1v1h-1zM9 25h1v1h-1zM13 25h1v1h-1zM38 25h1v1h-1zM41 25h1v1h-1zM44 25h2v1h-2zM20 26h1v1h-1zM50 26h1v1h-1zM10 27h2v1h-2zM18 27h1v1h-1zM29 27h1v1h-1zM35 27h1v1h-1zM38 27h1v1h-1zM51 27h2v1h-2zM0 28h2v1h-2zM23 28h1v1h-1zM34 28h1v1h-1zM38 28h1v1h-1zM45 28h1v1h-1zM51 28h2v1h-2zM32 29h1v1h-1zM48 29h2v1h-2zM50 30h1v1h-1zM6 31h1v1h-1zM10 31h1v1h-1zM39 31h2v1h-2zM42 31h3v1h-3zM48 31h1v1h-1zM23 32h1v1h-1zM31 32h1v1h-1zM51 32h2v1h-2zM3 33h1v1h-1zM5 33h1v1h-1zM12 33h2v1h-2zM23 33h1v1h-1zM36 33h2v1h-2zM39 33h1v1h-1zM2 34h1v1h-1zM27 34h1v1h-1zM13 35h1v1h-1zM34 35h1v1h-1zM0 36h2v1h-2zM3 36h1v1h-1zM14 36h1v1h-1zM37 36h1v1h-1zM42 36h2v1h-2zM46 36h1v1h-1zM5 37h1v1h-1zM29 37h1v1h-1zM38 37h2v1h-2zM50 37h1v1h-1zM2 38h2v1h-2zM6 38h1v1h-1zM20 38h1v1h-1zM22 38h1v1h-1zM30 38h1v1h-1zM48 38h1v1h-1zM16 39h1v1h-1zM21 39h1v1h-1zM32 39h1v1h-1zM0 40h2v1h-2zM6 40h1v1h-1zM8 40h1v1h-1zM19 40h1v1h-1zM24 40h1v1h-1zM30 40h1v1h-1zM32 40h1v1h-1zM34 40h1v1h-1zM48 40h1v1h-1zM20 41h1v1h-1zM30 41h1v1h-1zM32 41h1v1h-1zM36 41h1v1h-1zM41 41h1v1h-1zM51 41h2v1h-2zM22 42h1v1h-1zM40 42h1v1h-1zM5 43h1v1h-1zM22 43h1v1h-1zM31 43h1v1h-1zM47 43h1v1h-1zM5 44h1v1h-1zM11 44h1v1h-1zM26 44h1v1h-1zM37 44h1v1h-1zM51 44h2v1h-2zM6 45h1v1h-1zM2 46h2v1h-2zM11 46h1v1h-1zM27 46h1v1h-1zM30 46h1v1h-1zM4 47h1v1h-1zM16 47h1v1h-1zM35 47h2v1h-2zM49 47h1v1h-1zM51 47h2v1h-2zM7 48h1v1h-1zM19 48h1v1h-1zM41 48h1v1h-1zM47 48h1v1h-1zM2 49h1v1h-1zM5 49h1v1h-1zM24 49h1v1h-1zM28 49h1v1h-1zM44 49h1v1h-1zM47 49h2v1h-2zM9 50h1v1h-1zM30 50h1v1h-1zM37 50h1v1h-1zM9 51h1v1h-1zM30 51h1v1h-1zM37 51h1v1h-1z"/>
<path fill="#4896c8" d="M0 3h2v1h-2zM12 3h1v1h-1zM2 5h1v1h-1zM15 5h1v1h-1zM6 6h1v1h-1zM11 6h2v1h-2zM40 7h1v1h-1zM7 8h1v1h-1zM32 8h1v1h-1zM42 8h1v1h-1zM28 9h1v1h-1zM0 10h2v1h-2zM4 10h1v1h-1zM41 10h1v1h-1zM22 11h1v1h-1zM28 11h1v1h-1zM2 12h1v1h-1zM17 12h1v1h-1zM25 12h1v1h-1zM6 13h1v1h-1zM25 13h1v1h-1zM35 13h1v1h-1zM37 13h1v1h-1zM43 13h1v1h-1zM31 14h1v1h-1zM49 14h1v1h-1zM51 14h2v1h-2zM0 16h2v1h-2zM3 16h1v1h-1zM13 16h1v1h-1zM21 17h1v1h-1zM26 17h1v1h-1zM44 17h1v1h-1zM49 17h1v1h-1zM7 18h1v1h-1zM12 18h1v1h-1zM36 18h1v1h-1zM41 18h2v1h-2zM13 19h1v1h-1zM20 19h1v1h-1zM22 19h1v1h-1zM33 19h2v1h-2zM39 19h3v1h-3zM2 20h1v1h-1zM22 20h1v1h-1zM29 20h2v1h-2zM32 20h1v1h-1zM37 20h1v1h-1zM40 20h1v1h-1zM44 20h1v1h-1zM7 21h1v1h-1zM16 21h1v1h-1zM20 21h1v1h-1zM23 21h1v1h-1zM35 21h1v1h-1zM44 21h1v1h-1zM0 22h2v1h-2zM50 22h1v1h-1zM5 23h2v1h-2zM17 23h3v1h-3zM34 23h1v1h-1zM37 23h1v1h-1zM40 23h1v1h-1zM2 24h2v1h-2zM22 24h1v1h-1zM33 24h1v1h-1zM3 25h1v1h-1zM6 25h1v1h-1zM11 25h2v1h-2zM20 25h1v1h-1zM25 25h1v1h-1zM27 25h1v1h-1zM36 25h1v1h-1zM39 25h1v1h-1zM40 26h1v1h-1zM51 26h2v1h-2zM0 27h2v1h-2zM7 27h1v1h-1zM23 27h1v1h-1zM26 27h1v1h-1zM37 27h1v1h-1zM40 27h1v1h-1zM46 27h1v1h-1zM42 28h1v1h-1zM48 28h1v1h-1zM15 29h1v1h-1zM33 29h1v1h-1zM43 29h1v1h-1zM46 29h1v1h-1zM2 30h1v1h-1zM8 30h1v1h-1zM17 30h1v1h-1zM31 30h1v1h-1zM34 30h1v1h-1zM36 30h1v1h-1zM43 30h1v1h-1zM4 31h1v1h-1zM31 31h1v1h-1zM51 31h2v1h-2zM15 32h1v1h-1zM22 32h1v1h-1zM40 32h1v1h-1zM42 32h1v1h-1zM7 33h1v1h-1zM24 33h1v1h-1zM27 33h1v1h-1zM38 33h1v1h-1zM43 33h1v1h-1zM46 33h1v1h-1zM36 34h1v1h-1zM43 34h1v1h-1zM46 34h1v1h-1zM7 35h1v1h-1zM9 35h1v1h-1zM22 35h1v1h-1zM26 35h1v1h-1zM37 35h1v1h-1zM39 35h1v1h-1zM5 36h1v1h-1zM22 36h1v1h-1zM36 36h1v1h-1zM51 36h2v1h-2zM0 37h2v1h-2zM6 37h1v1h-1zM10 37h1v1h-1zM17 37h1v1h-1zM32 37h1v1h-1zM40 37h1v1h-1zM9 39h1v1h-1zM35 39h1v1h-1zM46 39h1v1h-1zM48 39h1v1h-1zM41 40h1v1h-1zM13 41h1v1h-1zM35 41h1v1h-1zM3 42h1v1h-1zM13 42h1v1h-1zM15 42h1v1h-1zM23 42h1v1h-1zM27 42h1v1h-1zM35 42h1v1h-1zM49 42h1v1h-1zM7 43h1v1h-1zM33 43h2v1h-2zM39 43h1v1h-1zM48 43h1v1h-1zM25 44h1v1h-1zM5 45h1v1h-1zM12 45h2v1h-2zM23 45h1v1h-1zM44 45h2v1h-2zM5 46h1v1h-1zM9 46h2v1h-2zM12 46h2v1h-2zM25 46h1v1h-1zM41 46h1v1h-1zM51 46h2v1h-2zM3 47h1v1h-1zM11 47h1v1h-1zM17 47h1v1h-1zM23 47h1v1h-1zM50 47h1v1h-1zM15 48h1v1h-1zM21 48h1v1h-1zM40 48h1v1h-1zM4 49h1v1h-1zM8 49h1v1h-1zM14 49h2v1h-2zM29 49h1v1h-1zM40 49h1v1h-1zM2 50h1v1h-1zM10 50h1v1h-1zM24 50h1v1h-1zM32 50h2v1h-2zM47 50h1v1h-1zM2 51h1v1h-1zM10 51h1v1h-1zM24 51h1v1h-1zM32 51h2v1h-2zM47 51h1v1h-1z"/>
<path fill="#2373b6" d="M22 2h1v1h-1zM8 8h1v1h-1zM19 9h1v1h-1zM47 9h1v1h-1zM7 10h1v1h-1zM11 10h1v1h-1zM31 11h1v1h-1zM48 12h1v1h-1zM4 13h1v1h-1zM47 13h1v1h-1zM25 14h1v1h-1zM48 14h1v1h-1zM7 15h1v1h-1zM15 15h1v1h-1zM22 16h1v1h-1zM28 18h1v1h-1zM49 20h1v1h-1zM50 21h1v1h-1zM21 22h1v1h-1zM47 23h1v1h-1zM47 25h1v1h-1zM29 26h1v1h-1zM3 27h2v1h-2zM26 28h2v1h-2zM40 29h1v1h-1zM28 30h2v1h-2zM34 31h1v1h-1zM49 31h1v1h-1zM4 32h1v1h-1zM10 32h1v1h-1zM20 32h1v1h-1zM42 33h1v1h-1zM35 34h1v1h-1zM34 36h1v1h-1zM7 37h1v1h-1zM34 37h1v1h-1zM32 38h1v1h-1zM11 39h1v1h-1zM23 39h1v1h-1zM43 39h1v1h-1zM3 40h1v1h-1zM28 40h1v1h-1zM31 40h1v1h-1zM51 40h2v1h-2zM4 41h1v1h-1zM6 41h1v1h-1zM34 41h1v1h-1zM48 41h1v1h-1zM4 42h1v1h-1zM32 42h1v1h-1zM41 44h1v1h-1zM32 45h1v1h-1zM0 46h2v1h-2zM6 46h1v1h-1zM31 46h1v1h-1zM8 47h1v1h-1zM10 47h1v1h-1zM19 47h1v1h-1zM39 47h1v1h-1zM13 48h1v1h-1zM23 48h1v1h-1zM31 48h1v1h-1zM42 48h1v1h-1zM30 49h1v1h-1zM18 50h1v1h-1zM48 50h1v1h-1zM18 51h1v1h-1zM48 51h1v1h-1z"/>
<path fill="#1a68ae" d="M28 3h1v1h-1zM39 5h1v1h-1zM20 6h1v1h-1zM17 8h1v1h-1zM19 8h1v1h-1zM13 9h1v1h-1zM22 9h1v1h-1zM24 9h1v1h-1zM30 9h1v1h-1zM18 10h1v1h-1zM11 11h1v1h-1zM13 11h1v1h-1zM34 11h1v1h-1zM40 11h1v1h-1zM15 12h1v1h-1zM31 12h1v1h-1zM11 13h1v1h-1zM46 14h1v1h-1zM8 15h1v1h-1zM16 15h1v1h-1zM18 15h1v1h-1zM32 15h1v1h-1zM4 16h1v1h-1zM10 16h1v1h-1zM45 16h1v1h-1zM17 18h1v1h-1zM24 19h1v1h-1zM13 20h1v1h-1zM19 20h1v1h-1zM35 20h1v1h-1zM28 21h1v1h-1zM49 21h1v1h-1zM49 22h1v1h-1zM23 23h1v1h-1zM4 25h1v1h-1zM36 26h1v1h-1zM8 27h1v1h-1zM6 28h1v1h-1zM37 28h1v1h-1zM10 30h2v1h-2zM16 30h1v1h-1zM25 30h1v1h-1zM30 30h1v1h-1zM3 31h1v1h-1zM27 31h1v1h-1zM37 31h1v1h-1zM19 32h1v1h-1zM27 32h1v1h-1zM37 32h1v1h-1zM9 34h1v1h-1zM12 34h1v1h-1zM42 34h1v1h-1zM44 34h1v1h-1zM18 35h1v1h-1zM38 35h1v1h-1zM15 36h1v1h-1zM24 37h1v1h-1zM31 37h1v1h-1zM35 37h1v1h-1zM41 37h1v1h-1zM9 38h1v1h-1zM39 38h1v1h-1zM31 39h1v1h-1zM3 41h1v1h-1zM40 43h1v1h-1zM45 43h1v1h-1zM17 44h1v1h-1zM28 44h1v1h-1zM32 44h1v1h-1zM40 44h1v1h-1zM3 45h1v1h-1zM14 45h1v1h-1zM20 45h1v1h-1zM34 45h1v1h-1zM20 46h1v1h-1zM29 46h1v1h-1zM32 46h1v1h-1zM47 46h1v1h-1zM6 47h1v1h-1zM38 47h1v1h-1zM6 48h1v1h-1zM25 49h1v1h-1zM35 49h1v1h-1zM28 50h1v1h-1zM28 51h1v1h-1z"/>
<path fill="#125da6" d="M6 0h1v1h-1zM6 1h1v1h-1zM47 6h1v1h-1zM12 8h1v1h-1zM37 8h1v1h-1zM2 10h1v1h-1zM12 10h1v1h-1zM47 10h1v1h-1zM27 13h1v1h-1zM36 13h1v1h-1zM42 13h1v1h-1zM11 15h1v1h-1zM21 15h1v1h-1zM48 17h1v1h-1zM9 18h1v1h-1zM48 18h1v1h-1zM37 19h1v1h-1zM12 20h1v1h-1zM10 22h1v1h-1zM32 22h1v1h-1zM43 22h1v1h-1zM7 24h1v1h-1zM27 24h1v1h-1zM28 26h1v1h-1zM30 26h1v1h-1zM28 27h1v1h-1zM42 27h1v1h-1zM12 28h1v1h-1zM50 28h1v1h-1zM5 29h1v1h-1zM21 29h1v1h-1zM44 29h1v1h-1zM50 29h1v1h-1zM27 30h1v1h-1zM2 31h1v1h-1zM33 31h1v1h-1zM25 33h1v1h-1zM30 33h2v1h-2zM8 34h1v1h-1zM20 34h1v1h-1zM34 34h1v1h-1zM39 34h1v1h-1zM35 35h1v1h-1zM19 36h1v1h-1zM5 39h1v1h-1zM14 39h1v1h-1zM20 39h1v1h-1zM50 40h1v1h-1zM45 42h1v1h-1zM0 43h2v1h-2zM30 43h1v1h-1zM39 44h1v1h-1zM4 45h1v1h-1zM35 45h1v1h-1zM19 46h1v1h-1z"/>
<path fill="#083b7c" d="M0 0h2v1h-2zM0 1h2v1h-2zM3 2h1v1h-1zM13 2h1v1h-1zM19 3h1v1h-1zM31 3h1v1h-1zM8 5h1v1h-1zM12 5h2v1h-2zM49 6h1v1h-1zM16 7h1v1h-1zM28 7h1v1h-1zM43 7h1v1h-1zM41 8h1v1h-1zM7 9h1v1h-1zM29 10h1v1h-1zM8 11h1v1h-1zM12 12h1v1h-1zM32 12h1v1h-1zM41 12h1v1h-1zM46 12h1v1h-1zM20 13h1v1h-1zM29 13h1v1h-1zM19 15h1v1h-1zM39 15h1v1h-1zM36 16h1v1h-1zM49 16h1v1h-1zM13 18h1v1h-1zM19 18h1v1h-1zM23 19h1v1h-1zM33 20h1v1h-1zM9 21h1v1h-1zM18 21h1v1h-1zM2 22h1v1h-1zM14 22h1v1h-1zM16 23h1v1h-1zM13 24h1v1h-1zM24 24h1v1h-1zM26 24h1v1h-1zM23 26h1v1h-1zM25 26h1v1h-1zM9 27h1v1h-1zM28 28h1v1h-1zM33 28h1v1h-1zM43 28h1v1h-1zM3 29h1v1h-1zM11 31h1v1h-1zM16 32h1v1h-1zM24 32h3v1h-3zM15 33h1v1h-1zM20 33h1v1h-1zM41 33h1v1h-1zM4 34h1v1h-1zM16 34h1v1h-1zM36 35h1v1h-1zM26 36h1v1h-1zM49 36h1v1h-1zM14 37h1v1h-1zM31 38h1v1h-1zM44 38h1v1h-1zM47 38h1v1h-1zM24 39h1v1h-1zM49 39h1v1h-1zM7 40h1v1h-1zM17 40h1v1h-1zM29 40h1v1h-1zM40 40h1v1h-1zM5 42h1v1h-1zM9 42h1v1h-1zM21 43h1v1h-1zM4 44h1v1h-1zM46 45h1v1h-1zM48 45h1v1h-1zM17 46h1v1h-1zM44 46h1v1h-1zM49 46h1v1h-1zM20 47h1v1h-1zM26 48h1v1h-1zM41 49h1v1h-1zM45 49h1v1h-1zM5 50h1v1h-1zM26 50h1v1h-1zM43 50h1v1h-1zM51 50h2v1h-2zM5 51h1v1h-1zM26 51h1v1h-1zM43 51h1v1h-1zM51 51h2v1h-2z"/>
<path fill="#08306b" d="M3 0h1v1h-1zM13 0h1v1h-1zM20 0h1v1h-1zM27 0h1v1h-1zM3 1h1v1h-1zM13 1h1v1h-1zM20 1h1v1h-1zM27 1h1v1h-1zM4 2h1v1h-1zM11 2h1v1h-1zM15 2h1v1h-1zM17 2h1v1h-1zM20 2h1v1h-1zM29 2h1v1h-1zM36 2h1v1h-1zM51 2h2v1h-2zM7 3h2v1h-2zM14 3h2v1h-2zM17 3h2v1h-2zM23 3h2v1h-2zM29 3h1v1h-1zM0 4h3v1h-3zM6 4h1v1h-1zM9 4h1v1h-1zM23 4h1v1h-1zM25 4h2v1h-2zM29 4h3v1h-3zM0 5h2v1h-2zM3 5h1v1h-1zM7 5h1v1h-1zM11 5h1v1h-1zM20 5h1v1h-1zM22 5h2v1h-2zM25 5h1v1h-1zM28 5h1v1h-1zM51 5h2v1h-2zM3 6h1v1h-1zM8 6h1v1h-1zM13 6h1v1h-1zM15 6h1v1h-1zM19 6h1v1h-1zM23 6h2v1h-2zM27 6h1v1h-1zM31 6h1v1h-1zM41 6h1v1h-1zM51 6h2v1h-2zM0 7h2v1h-2zM3 7h2v1h-2zM7 7h1v1h-1zM9 7h2v1h-2zM19 7h1v1h-1zM23 7h1v1h-1zM31 7h2v1h-2zM34 7h1v1h-1zM39 7h1v1h-1zM45 7h1v1h-1zM10 8h1v1h-1zM16 8h1v1h-1zM25 8h1v1h-1zM27 8h1v1h-1zM38 8h1v1h-1zM40 8h1v1h-1zM43 8h1v1h-1zM46 8h1v1h-1zM48 8h1v1h-1zM51 8h2v1h-2zM2 9h1v1h-1zM5 9h2v1h-2zM8 9h2v1h-2zM14 9h1v1h-1zM21 9h1v1h-1zM25 9h1v1h-1zM40 9h1v1h-1zM15 10h2v1h-2zM21 10h1v1h-1zM27 10h2v1h-2zM45 10h1v1h-1zM48 10h1v1h-1zM5 11h1v1h-1zM10 11h1v1h-1zM12 11h1v1h-1zM14 11h1v1h-1zM16 11h1v1h-1zM18 11h1v1h-1zM21 11h1v1h-1zM24 11h1v1h-1zM27 11h1v1h-1zM30 11h1v1h-1zM32 11h2v1h-2zM35 11h1v1h-1zM44 11h1v1h-1zM51 11h2v1h-2zM8 12h1v1h-1zM10 12h1v1h-1zM21 12h1v1h-1zM30 12h1v1h-1zM33 12h1v1h-1zM36 12h1v1h-1zM50 12h1v1h-1zM12 13h1v1h-1zM17 13h1v1h-1zM19 13h1v1h-1zM39 13h1v1h-1zM44 13h1v1h-1zM50 13h1v1h-1zM12 14h1v1h-1zM18 14h4v1h-4zM34 14h1v1h-1zM36 14h1v1h-1zM44 14h1v1h-1zM47 14h1v1h-1zM50 14h1v1h-1zM5 15h2v1h-2zM14 15h1v1h-1zM42 15h1v1h-1zM45 15h2v1h-2zM48 15h1v1h-1zM51 15h2v1h-2zM12 16h1v1h-1zM20 16h1v1h-1zM23 16h1v1h-1zM26 16h2v1h-2zM37 16h2v1h-2zM42 16h1v1h-1zM44 16h1v1h-1zM46 16h3v1h-3zM50 16h1v1h-1zM5 17h1v1h-1zM9 17h1v1h-1zM19 17h1v1h-1zM22 17h2v1h-2zM41 17h1v1h-1zM43 17h1v1h-1zM46 17h1v1h-1zM14 18h1v1h-1zM20 18h3v1h-3zM25 18h2v1h-2zM35 18h1v1h-1zM39 18h1v1h-1zM44 18h2v1h-2zM9 19h1v1h-1zM11 19h1v1h-1zM14 19h1v1h-1zM16 19h1v1h-1zM18 19h1v1h-1zM30 19h1v1h-1zM32 19h1v1h-1zM36 19h1v1h-1zM45 19h1v1h-1zM18 20h1v1h-1zM24 20h2v1h-2zM41 20h2v1h-2zM50 20h1v1h-1zM12 21h1v1h-1zM19 21h1v1h-1zM21 21h2v1h-2zM24 21h3v1h-3zM34 21h1v1h-1zM39 21h1v1h-1zM41 21h1v1h-1zM12 22h2v1h-2zM16 22h1v1h-1zM20 22h1v1h-1zM22 22h2v1h-2zM25 22h1v1h-1zM46 22h2v1h-2zM3 23h2v1h-2zM10 23h2v1h-2zM13 23h1v1h-1zM20 23h3v1h-3zM24 23h1v1h-1zM28 23h1v1h-1zM35 23h1v1h-1zM42 23h1v1h-1zM49 23h1v1h-1zM8 24h1v1h-1zM11 24h1v1h-1zM15 24h1v1h-1zM17 24h4v1h-4zM23 24h1v1h-1zM28 24h1v1h-1zM35 24h1v1h-1zM40 24h1v1h-1zM46 24h1v1h-1zM8 25h1v1h-1zM10 25h1v1h-1zM14 25h4v1h-4zM19 25h1v1h-1zM21 25h1v1h-1zM24 25h1v1h-1zM26 25h1v1h-1zM50 25h1v1h-1zM2 26h1v1h-1zM7 26h1v1h-1zM10 26h4v1h-4zM15 26h5v1h-5zM21 26h1v1h-1zM26 26h2v1h-2zM32 26h1v1h-1zM49 26h1v1h-1zM2 27h1v1h-1zM5 27h1v1h-1zM13 27h1v1h-1zM16 27h2v1h-2zM20 27h1v1h-1zM22 27h1v1h-1zM24 27h2v1h-2zM27 27h1v1h-1zM33 27h1v1h-1zM3 28h1v1h-1zM5 28h1v1h-1zM8 28h1v1h-1zM10 28h1v1h-1zM13 28h3v1h-3zM18 28h3v1h-3zM22 28h1v1h-1zM24 28h2v1h-2zM31 28h1v1h-1zM35 28h2v1h-2zM39 28h1v1h-1zM46 28h1v1h-1zM2 29h1v1h-1zM10 29h3v1h-3zM14 29h1v1h-1zM16 29h1v1h-1zM18 29h1v1h-1zM23 29h1v1h-1zM26 29h2v1h-2zM29 29h1v1h-1zM31 29h1v1h-1zM39 29h1v1h-1zM4 30h1v1h-1zM6 30h2v1h-2zM9 30h1v1h-1zM15 30h1v1h-1zM18 30h1v1h-1zM20 30h1v1h-1zM22 30h1v1h-1zM46 30h1v1h-1zM7 31h1v1h-1zM9 31h1v1h-1zM12 31h2v1h-2zM15 31h2v1h-2zM19 31h2v1h-2zM22 31h1v1h-1zM41 31h1v1h-1zM3 32h1v1h-1zM6 32h1v1h-1zM9 32h1v1h-1zM11 32h2v1h-2zM14 32h1v1h-1zM17 32h2v1h-2zM21 32h1v1h-1zM30 32h1v1h-1zM33 32h2v1h-2zM44 32h1v1h-1zM0 33h2v1h-2zM9 33h2v1h-2zM14 33h1v1h-1zM26 33h1v1h-1zM29 33h1v1h-1zM45 33h1v1h-1zM51 33h2v1h-2zM10 34h1v1h-1zM17 34h3v1h-3zM24 34h1v1h-1zM48 34h1v1h-1zM50 34h3v1h-3zM4 35h3v1h-3zM11 35h1v1h-1zM16 35h1v1h-1zM19 35h1v1h-1zM25 35h1v1h-1zM27 35h2v1h-2zM30 35h1v1h-1zM33 35h1v1h-1zM49 35h1v1h-1zM2 36h1v1h-1zM4 36h1v1h-1zM6 36h1v1h-1zM8 36h1v1h-1zM11 36h2v1h-2zM16 36h3v1h-3zM29 36h1v1h-1zM45 36h1v1h-1zM48 36h1v1h-1zM50 36h1v1h-1zM11 37h1v1h-1zM13 37h1v1h-1zM15 37h2v1h-2zM20 37h3v1h-3zM45 37h1v1h-1zM47 37h1v1h-1zM4 38h1v1h-1zM7 38h1v1h-1zM10 38h2v1h-2zM15 38h1v1h-1zM21 38h1v1h-1zM27 38h2v1h-2zM43 38h1v1h-1zM45 38h1v1h-1zM49 38h2v1h-2zM3 39h2v1h-2zM7 39h1v1h-1zM27 39h1v1h-1zM33 39h1v1h-1zM39 39h1v1h-1zM44 39h2v1h-2zM50 39h1v1h-1zM2 40h1v1h-1zM5 40h1v1h-1zM9 40h2v1h-2zM13 40h1v1h-1zM21 40h2v1h-2zM25 40h1v1h-1zM27 40h1v1h-1zM33 40h1v1h-1zM37 40h2v1h-2zM46 40h1v1h-1zM49 40h1v1h-1zM0 41h3v1h-3zM5 41h1v1h-1zM9 41h1v1h-1zM18 41h2v1h-2zM25 41h1v1h-1zM28 41h1v1h-1zM44 41h1v1h-1zM46 41h2v1h-2zM8 42h1v1h-1zM16 42h2v1h-2zM19 42h1v1h-1zM25 42h1v1h-1zM46 42h3v1h-3zM19 43h1v1h-1zM24 43h1v1h-1zM27 43h1v1h-1zM36 43h1v1h-1zM41 43h2v1h-2zM44 43h1v1h-1zM46 43h1v1h-1zM50 43h3v1h-3zM3 44h1v1h-1zM9 44h2v1h-2zM13 44h3v1h-3zM20 44h1v1h-1zM42 44h2v1h-2zM46 44h1v1h-1zM2 45h1v1h-1zM7 45h1v1h-1zM19 45h1v1h-1zM24 45h1v1h-1zM30 45h1v1h-1zM37 45h1v1h-1zM41 45h1v1h-1zM51 45h2v1h-2zM16 46h1v1h-1zM21 46h1v1h-1zM35 46h1v1h-1zM38 46h1v1h-1zM43 46h1v1h-1zM46 46h1v1h-1zM50 46h1v1h-1zM22 47h1v1h-1zM24 47h1v1h-1zM30 47h1v1h-1zM37 47h1v1h-1zM40 47h2v1h-2zM44 47h1v1h-1zM46 47h3v1h-3zM3 48h1v1h-1zM9 48h1v1h-1zM11 48h1v1h-1zM24 48h1v1h-1zM32 48h2v1h-2zM39 48h1v1h-1zM44 48h2v1h-2zM48 48h2v1h-2zM18 49h1v1h-1zM20 49h1v1h-1zM26 49h1v1h-1zM34 49h1v1h-1zM39 49h1v1h-1zM42 49h1v1h-1zM46 49h1v1h-1zM51 49h2v1h-2zM3 50h1v1h-1zM6 50h1v1h-1zM14 50h1v1h-1zM3 51h1v1h-1zM6 51h1v1h-1zM14 51h1v1h-1z"/>
</g></g>
</g>
<g clip-path="url(#clipC)"><g fill="none" stroke="#f4b183" stroke-width="2.9" stroke-dasharray="10.4 4.4" opacity="0.94">
<ellipse cx="142.4" cy="499.6" rx="39.4" ry="57.4" transform="rotate(-26.6 142.4 499.6)"/>
<circle cx="267.6" cy="433.5" r="25.9"/>
<circle cx="267.7" cy="569" r="25.9"/>
</g></g>
<rect x="62.45" y="372.45" width="232.0" height="226.5" fill="none" stroke="#2a2a2a" stroke-width="0.8"/>
<text class="dj" x="64.7" y="614.5" font-size="11.6" fill="#2a2a2a" text-anchor="middle">0</text>
<text class="dj" x="110.2" y="614.5" font-size="11.6" fill="#2a2a2a" text-anchor="middle">10</text>
<text class="dj" x="155.7" y="614.5" font-size="11.6" fill="#2a2a2a" text-anchor="middle">20</text>
<text class="dj" x="201.2" y="614.5" font-size="11.6" fill="#2a2a2a" text-anchor="middle">30</text>
<text class="dj" x="246.7" y="614.5" font-size="11.6" fill="#2a2a2a" text-anchor="middle">40</text>
<text class="dj" x="292.2" y="614.5" font-size="11.6" fill="#2a2a2a" text-anchor="middle">50</text>
<text class="dj" x="55.9" y="379.1" font-size="11.6" fill="#2a2a2a" text-anchor="end">0</text>
<text class="dj" x="55.9" y="424.4" font-size="11.6" fill="#2a2a2a" text-anchor="end">10</text>
<text class="dj" x="55.9" y="469.7" font-size="11.6" fill="#2a2a2a" text-anchor="end">20</text>
<text class="dj" x="55.9" y="515.0" font-size="11.6" fill="#2a2a2a" text-anchor="end">30</text>
<text class="dj" x="55.9" y="560.3" font-size="11.6" fill="#2a2a2a" text-anchor="end">40</text>
<rect x="310" y="372.45" width="11.2" height="226.5" fill="url(#gBlues)" stroke="#333" stroke-width="0.8"/>
<text class="dj" x="327.1" y="603.6" font-size="11.2" fill="#2a2a2a" text-anchor="start">10</text>
<text class="dj" x="327.1" y="565.8" font-size="11.2" fill="#2a2a2a" text-anchor="start">20</text>
<text class="dj" x="327.1" y="528.1" font-size="11.2" fill="#2a2a2a" text-anchor="start">30</text>
<text class="dj" x="327.1" y="490.3" font-size="11.2" fill="#2a2a2a" text-anchor="start">40</text>
<text class="dj" x="327.1" y="452.6" font-size="11.2" fill="#2a2a2a" text-anchor="start">50</text>
<text class="dj" x="327.1" y="414.8" font-size="11.2" fill="#2a2a2a" text-anchor="start">60</text>
<text class="dj" x="327.1" y="377.1" font-size="11.2" fill="#2a2a2a" text-anchor="start">70</text>
<path d="M64.72 598.95v3M110.21 598.95v3M155.70 598.95v3M201.20 598.95v3M246.69 598.95v3M292.18 598.95v3M62.45 374.71h-3M62.45 420.01h-3M62.45 465.31h-3M62.45 510.62h-3M62.45 555.91h-3M321.2 598.95h3M321.2 561.20h3M321.2 523.45h3M321.2 485.70h3M321.2 447.95h3M321.2 410.20h3M321.2 372.45h3" stroke="#333" stroke-width="0.8" fill="none"/>
</g>
<g id="panel-d">
<g clip-path="url(#clipD)">
<g filter="url(#bl)"><g transform="translate(390.943,366.093) scale(4.55686,4.55700)" shape-rendering="crispEdges">
<rect width="53" height="52" fill="#ffffe5"/>
<path fill="#e1f3a9" d="M9 4h1v1h-1zM13 5h1v1h-1zM51 17h2v1h-2zM49 18h1v1h-1zM27 39h1v1h-1zM37 40h1v1h-1zM19 42h1v1h-1zM3 48h1v1h-1z"/>
<path fill="#d6efa2" d="M4 2h1v1h-1zM17 2h1v1h-1zM0 4h2v1h-2zM8 4h1v1h-1zM3 5h1v1h-1zM27 6h1v1h-1zM9 8h1v1h-1zM25 8h1v1h-1zM45 10h1v1h-1zM6 11h2v1h-2zM8 12h1v1h-1zM12 13h1v1h-1zM42 15h1v1h-1zM27 16h1v1h-1zM5 17h1v1h-1zM16 17h1v1h-1zM41 21h1v1h-1zM13 22h1v1h-1zM3 23h1v1h-1zM15 23h1v1h-1zM49 23h1v1h-1zM27 28h1v1h-1zM41 28h1v1h-1zM3 29h1v1h-1zM23 29h1v1h-1zM46 30h1v1h-1zM10 32h1v1h-1zM26 32h1v1h-1zM28 32h1v1h-1zM44 32h1v1h-1zM10 33h1v1h-1zM12 36h1v1h-1zM16 36h1v1h-1zM11 38h1v1h-1zM24 39h1v1h-1zM17 40h1v1h-1zM21 41h1v1h-1zM23 41h1v1h-1zM2 45h1v1h-1zM37 45h1v1h-1zM40 45h1v1h-1zM51 45h2v1h-2zM17 46h1v1h-1zM49 46h1v1h-1zM30 47h1v1h-1zM40 47h1v1h-1zM20 49h1v1h-1z"/>
<path fill="#c7e89a" d="M23 6h1v1h-1zM16 8h1v1h-1zM0 9h3v1h-3zM7 9h2v1h-2zM48 10h1v1h-1zM13 11h1v1h-1zM11 13h1v1h-1zM13 14h1v1h-1zM15 17h1v1h-1zM35 18h1v1h-1zM45 18h1v1h-1zM30 19h1v1h-1zM24 20h1v1h-1zM20 22h1v1h-1zM31 22h1v1h-1zM42 22h1v1h-1zM13 23h1v1h-1zM40 24h1v1h-1zM15 25h1v1h-1zM18 26h1v1h-1zM22 27h1v1h-1zM27 27h1v1h-1zM3 28h1v1h-1zM15 28h1v1h-1zM19 28h1v1h-1zM43 28h1v1h-1zM39 29h1v1h-1zM7 31h1v1h-1zM15 31h1v1h-1zM18 31h1v1h-1zM6 32h1v1h-1zM16 32h1v1h-1zM9 33h1v1h-1zM45 33h1v1h-1zM19 35h1v1h-1zM27 35h1v1h-1zM44 35h1v1h-1zM11 36h1v1h-1zM44 36h1v1h-1zM45 38h1v1h-1zM33 39h1v1h-1zM2 40h1v1h-1zM50 40h1v1h-1zM47 41h2v1h-2zM16 42h1v1h-1zM47 42h1v1h-1zM40 43h1v1h-1zM15 44h1v1h-1zM20 44h1v1h-1zM42 44h1v1h-1zM7 45h1v1h-1zM30 45h1v1h-1zM41 45h2v1h-2zM48 47h1v1h-1zM41 48h1v1h-1zM50 48h1v1h-1zM41 49h1v1h-1zM45 49h2v1h-2z"/>
<path fill="#b6e192" d="M24 3h1v1h-1zM29 3h1v1h-1zM2 4h1v1h-1zM51 6h2v1h-2zM10 7h1v1h-1zM10 8h1v1h-1zM36 8h1v1h-1zM5 11h1v1h-1zM12 11h1v1h-1zM41 12h1v1h-1zM31 13h1v1h-1zM44 13h1v1h-1zM12 14h1v1h-1zM36 14h1v1h-1zM47 14h1v1h-1zM19 15h1v1h-1zM47 15h1v1h-1zM36 16h1v1h-1zM38 16h1v1h-1zM14 17h1v1h-1zM23 17h1v1h-1zM38 17h1v1h-1zM41 17h1v1h-1zM43 17h1v1h-1zM28 18h1v1h-1zM36 20h1v1h-1zM41 20h2v1h-2zM24 24h1v1h-1zM21 25h1v1h-1zM50 25h1v1h-1zM4 27h1v1h-1zM43 27h1v1h-1zM40 28h1v1h-1zM2 29h1v1h-1zM9 30h1v1h-1zM36 31h1v1h-1zM3 32h1v1h-1zM50 34h3v1h-3zM49 36h1v1h-1zM14 37h1v1h-1zM45 37h1v1h-1zM28 38h1v1h-1zM46 38h1v1h-1zM28 39h1v1h-1zM21 40h1v1h-1zM25 40h1v1h-1zM27 40h1v1h-1zM0 41h2v1h-2zM9 41h1v1h-1zM18 41h2v1h-2zM46 42h1v1h-1zM48 42h1v1h-1zM24 43h1v1h-1zM14 44h1v1h-1zM44 47h1v1h-1zM4 48h1v1h-1zM24 48h1v1h-1zM39 48h1v1h-1zM34 49h1v1h-1z"/>
<path fill="#81ca7d" d="M0 2h2v1h-2zM21 9h1v1h-1zM0 10h2v1h-2zM7 10h1v1h-1zM18 15h1v1h-1zM4 16h1v1h-1zM40 17h1v1h-1zM48 19h1v1h-1zM35 20h1v1h-1zM47 25h1v1h-1zM27 26h1v1h-1zM10 27h1v1h-1zM31 28h1v1h-1zM4 32h1v1h-1zM20 34h1v1h-1zM44 34h1v1h-1zM13 36h1v1h-1zM16 39h1v1h-1zM23 39h1v1h-1zM34 41h1v1h-1zM42 43h1v1h-1zM4 45h1v1h-1zM47 46h1v1h-1zM8 47h1v1h-1zM10 47h1v1h-1zM42 49h1v1h-1z"/>
<path fill="#6fc174" d="M17 8h1v1h-1zM5 9h1v1h-1zM31 9h1v1h-1zM11 10h1v1h-1zM22 10h1v1h-1zM47 10h1v1h-1zM51 12h2v1h-2zM27 13h1v1h-1zM46 14h1v1h-1zM15 15h2v1h-2zM42 16h1v1h-1zM49 16h1v1h-1zM50 17h1v1h-1zM12 18h1v1h-1zM41 18h1v1h-1zM10 19h1v1h-1zM21 19h1v1h-1zM23 19h1v1h-1zM45 19h1v1h-1zM49 19h1v1h-1zM21 20h1v1h-1zM45 20h1v1h-1zM49 20h1v1h-1zM28 21h1v1h-1zM43 22h1v1h-1zM28 23h1v1h-1zM4 24h1v1h-1zM7 24h1v1h-1zM9 24h1v1h-1zM11 24h1v1h-1zM9 25h1v1h-1zM36 26h1v1h-1zM42 27h1v1h-1zM5 29h1v1h-1zM40 29h1v1h-1zM44 29h1v1h-1zM3 31h1v1h-1zM9 31h1v1h-1zM12 32h1v1h-1zM19 32h2v1h-2zM27 32h1v1h-1zM11 33h1v1h-1zM30 33h2v1h-2zM8 34h1v1h-1zM35 34h1v1h-1zM12 35h1v1h-1zM35 35h1v1h-1zM19 36h1v1h-1zM34 36h1v1h-1zM34 37h1v1h-1zM15 38h1v1h-1zM15 39h1v1h-1zM32 39h1v1h-1zM47 39h1v1h-1zM18 40h2v1h-2zM40 40h1v1h-1zM6 41h1v1h-1zM5 42h1v1h-1zM21 43h1v1h-1zM28 44h1v1h-1zM3 45h1v1h-1zM19 46h2v1h-2zM32 46h1v1h-1zM50 46h1v1h-1zM50 47h3v1h-3zM42 48h1v1h-1zM44 49h1v1h-1zM28 50h1v1h-1zM28 51h1v1h-1z"/>
<path fill="#5cb86b" d="M12 8h2v1h-2zM30 9h1v1h-1zM47 9h1v1h-1zM2 10h1v1h-1zM18 10h1v1h-1zM21 10h1v1h-1zM27 10h1v1h-1zM15 12h1v1h-1zM31 12h1v1h-1zM46 12h1v1h-1zM20 14h2v1h-2zM8 15h1v1h-1zM21 15h1v1h-1zM46 15h1v1h-1zM51 15h2v1h-2zM8 17h1v1h-1zM13 17h1v1h-1zM48 17h1v1h-1zM18 18h1v1h-1zM21 18h1v1h-1zM3 19h1v1h-1zM42 19h1v1h-1zM47 19h1v1h-1zM25 20h1v1h-1zM44 20h1v1h-1zM9 22h2v1h-2zM49 22h1v1h-1zM4 25h1v1h-1zM32 26h1v1h-1zM9 28h1v1h-1zM26 28h1v1h-1zM21 29h1v1h-1zM8 30h1v1h-1zM33 31h1v1h-1zM30 32h1v1h-1zM7 33h1v1h-1zM25 33h1v1h-1zM42 33h1v1h-1zM34 34h1v1h-1zM39 34h1v1h-1zM2 36h1v1h-1zM24 37h1v1h-1zM35 37h1v1h-1zM4 38h1v1h-1zM26 38h1v1h-1zM39 38h1v1h-1zM9 40h1v1h-1zM22 40h3v1h-3zM28 40h1v1h-1zM32 42h1v1h-1zM3 43h1v1h-1zM32 44h1v1h-1zM41 44h1v1h-1zM51 44h2v1h-2zM20 45h1v1h-1zM22 45h1v1h-1zM16 46h1v1h-1zM43 46h1v1h-1zM51 46h2v1h-2zM6 47h1v1h-1zM19 47h1v1h-1zM39 47h1v1h-1zM9 48h1v1h-1zM13 48h1v1h-1zM15 48h1v1h-1zM48 49h1v1h-1z"/>
<path fill="#49af61" d="M8 8h1v1h-1zM40 8h1v1h-1zM13 9h1v1h-1zM4 10h1v1h-1zM12 10h1v1h-1zM28 10h1v1h-1zM42 10h1v1h-1zM31 11h1v1h-1zM34 11h1v1h-1zM4 13h1v1h-1zM40 13h1v1h-1zM51 14h2v1h-2zM7 15h1v1h-1zM10 16h1v1h-1zM9 18h1v1h-1zM19 18h1v1h-1zM48 18h1v1h-1zM44 19h1v1h-1zM10 20h1v1h-1zM22 20h1v1h-1zM18 21h1v1h-1zM49 21h1v1h-1zM9 23h1v1h-1zM3 27h1v1h-1zM45 27h1v1h-1zM22 28h1v1h-1zM9 29h1v1h-1zM15 29h1v1h-1zM25 32h1v1h-1zM26 33h2v1h-2zM4 34h1v1h-1zM9 34h1v1h-1zM11 34h1v1h-1zM16 34h1v1h-1zM25 35h1v1h-1zM38 35h1v1h-1zM31 37h1v1h-1zM20 38h1v1h-1zM32 38h1v1h-1zM47 38h1v1h-1zM25 39h1v1h-1zM10 40h1v1h-1zM42 40h1v1h-1zM4 42h1v1h-1zM45 42h1v1h-1zM0 43h2v1h-2zM51 43h2v1h-2zM22 44h1v1h-1zM40 44h1v1h-1zM14 45h1v1h-1zM32 45h1v1h-1zM38 47h1v1h-1zM6 48h1v1h-1zM23 48h1v1h-1zM44 48h1v1h-1zM15 49h1v1h-1z"/>
<path fill="#258745" d="M34 6h1v1h-1zM11 7h1v1h-1zM10 15h1v1h-1zM25 16h1v1h-1zM28 16h1v1h-1zM17 18h1v1h-1zM47 23h1v1h-1zM11 25h1v1h-1zM38 27h1v1h-1zM37 33h1v1h-1zM46 33h1v1h-1zM26 34h1v1h-1zM7 35h1v1h-1zM26 37h1v1h-1zM41 37h1v1h-1zM9 38h1v1h-1zM18 38h1v1h-1zM41 40h1v1h-1zM32 41h1v1h-1zM33 42h1v1h-1zM34 43h1v1h-1zM11 44h1v1h-1zM6 45h1v1h-1zM12 45h1v1h-1zM40 49h1v1h-1zM34 50h1v1h-1zM34 51h1v1h-1z"/>
<path fill="#197c40" d="M6 3h1v1h-1zM21 5h1v1h-1zM5 6h1v1h-1zM11 6h1v1h-1zM20 6h1v1h-1zM25 6h1v1h-1zM6 7h1v1h-1zM12 7h1v1h-1zM34 8h1v1h-1zM22 9h1v1h-1zM25 10h1v1h-1zM2 11h1v1h-1zM9 11h1v1h-1zM23 11h1v1h-1zM28 11h1v1h-1zM49 11h1v1h-1zM51 11h2v1h-2zM29 12h1v1h-1zM38 12h1v1h-1zM5 13h1v1h-1zM8 13h1v1h-1zM34 13h1v1h-1zM36 13h1v1h-1zM2 14h1v1h-1zM12 15h1v1h-1zM22 15h1v1h-1zM26 15h1v1h-1zM32 15h1v1h-1zM3 16h1v1h-1zM9 16h1v1h-1zM22 16h1v1h-1zM24 16h1v1h-1zM7 18h1v1h-1zM36 18h1v1h-1zM38 18h1v1h-1zM7 19h1v1h-1zM13 19h1v1h-1zM35 19h1v1h-1zM2 20h1v1h-1zM13 20h1v1h-1zM46 20h1v1h-1zM6 21h3v1h-3zM42 21h1v1h-1zM44 21h1v1h-1zM46 21h1v1h-1zM5 22h1v1h-1zM21 22h1v1h-1zM37 22h1v1h-1zM18 23h2v1h-2zM32 23h1v1h-1zM32 24h1v1h-1zM37 24h1v1h-1zM39 25h1v1h-1zM0 26h2v1h-2zM29 26h1v1h-1zM31 26h1v1h-1zM8 27h1v1h-1zM23 27h1v1h-1zM31 27h1v1h-1zM50 27h1v1h-1zM0 28h2v1h-2zM23 28h1v1h-1zM50 28h1v1h-1zM0 29h2v1h-2zM17 29h1v1h-1zM32 29h1v1h-1zM43 29h1v1h-1zM46 29h1v1h-1zM48 29h3v1h-3zM6 30h1v1h-1zM29 30h1v1h-1zM2 31h1v1h-1zM23 31h1v1h-1zM39 31h1v1h-1zM49 31h1v1h-1zM40 32h1v1h-1zM40 33h1v1h-1zM7 34h1v1h-1zM32 34h1v1h-1zM42 34h1v1h-1zM46 34h1v1h-1zM9 35h1v1h-1zM18 35h1v1h-1zM22 35h1v1h-1zM26 35h1v1h-1zM34 35h1v1h-1zM37 35h1v1h-1zM3 36h1v1h-1zM7 36h1v1h-1zM24 36h1v1h-1zM43 36h1v1h-1zM51 36h2v1h-2zM5 37h1v1h-1zM10 37h1v1h-1zM25 37h1v1h-1zM2 38h1v1h-1zM0 39h2v1h-2zM5 39h1v1h-1zM8 39h1v1h-1zM11 39h1v1h-1zM3 40h1v1h-1zM8 40h1v1h-1zM30 40h1v1h-1zM32 40h1v1h-1zM4 41h1v1h-1zM16 41h1v1h-1zM31 41h1v1h-1zM10 42h1v1h-1zM28 42h1v1h-1zM26 43h1v1h-1zM30 43h1v1h-1zM39 43h1v1h-1zM12 44h1v1h-1zM25 44h1v1h-1zM27 44h1v1h-1zM5 45h1v1h-1zM23 45h1v1h-1zM44 45h1v1h-1zM0 46h2v1h-2zM3 46h1v1h-1zM11 46h1v1h-1zM22 46h1v1h-1zM31 46h1v1h-1zM0 47h2v1h-2zM31 47h1v1h-1zM35 47h1v1h-1zM19 48h1v1h-1zM21 48h1v1h-1zM47 48h1v1h-1zM29 49h2v1h-2zM43 49h1v1h-1zM47 49h1v1h-1zM15 50h1v1h-1zM18 50h1v1h-1zM36 50h1v1h-1zM15 51h1v1h-1zM18 51h1v1h-1zM36 51h1v1h-1z"/>
<path fill="#0d733c" d="M2 2h1v1h-1zM12 3h1v1h-1zM6 6h1v1h-1zM9 6h1v1h-1zM21 6h1v1h-1zM32 6h1v1h-1zM5 7h1v1h-1zM14 7h1v1h-1zM30 7h1v1h-1zM19 8h1v1h-1zM32 8h1v1h-1zM19 9h1v1h-1zM24 9h1v1h-1zM27 9h1v1h-1zM11 11h1v1h-1zM25 11h1v1h-1zM41 11h1v1h-1zM17 12h1v1h-1zM23 12h1v1h-1zM42 12h1v1h-1zM48 12h1v1h-1zM0 13h2v1h-2zM42 13h1v1h-1zM49 13h1v1h-1zM8 14h1v1h-1zM24 15h1v1h-1zM0 16h3v1h-3zM13 16h1v1h-1zM29 16h1v1h-1zM50 16h1v1h-1zM6 17h1v1h-1zM18 17h1v1h-1zM21 17h1v1h-1zM3 18h2v1h-2zM5 19h1v1h-1zM24 19h1v1h-1zM38 19h1v1h-1zM40 19h1v1h-1zM20 20h1v1h-1zM26 20h1v1h-1zM29 20h1v1h-1zM2 21h2v1h-2zM5 21h1v1h-1zM15 21h1v1h-1zM33 21h1v1h-1zM35 21h1v1h-1zM50 21h1v1h-1zM0 22h2v1h-2zM6 22h1v1h-1zM35 22h1v1h-1zM41 22h1v1h-1zM44 22h1v1h-1zM6 23h1v1h-1zM43 23h1v1h-1zM46 23h1v1h-1zM3 24h1v1h-1zM5 24h1v1h-1zM27 24h1v1h-1zM31 24h1v1h-1zM38 24h1v1h-1zM45 24h1v1h-1zM6 25h1v1h-1zM38 25h1v1h-1zM3 26h1v1h-1zM30 26h1v1h-1zM51 26h2v1h-2zM0 27h2v1h-2zM7 27h1v1h-1zM26 27h1v1h-1zM46 27h1v1h-1zM34 28h1v1h-1zM37 28h2v1h-2zM51 28h2v1h-2zM6 29h1v1h-1zM19 29h1v1h-1zM33 29h1v1h-1zM37 29h2v1h-2zM28 30h1v1h-1zM37 30h1v1h-1zM43 30h1v1h-1zM49 30h1v1h-1zM6 31h1v1h-1zM34 31h1v1h-1zM31 32h1v1h-1zM42 32h1v1h-1zM4 33h1v1h-1zM19 33h1v1h-1zM23 33h1v1h-1zM38 33h2v1h-2zM14 35h1v1h-1zM23 35h1v1h-1zM47 35h1v1h-1zM14 36h1v1h-1zM25 36h1v1h-1zM36 36h1v1h-1zM47 36h1v1h-1zM6 37h1v1h-1zM17 37h1v1h-1zM29 37h1v1h-1zM37 37h1v1h-1zM39 37h2v1h-2zM51 37h2v1h-2zM3 38h1v1h-1zM6 38h1v1h-1zM42 38h1v1h-1zM9 39h1v1h-1zM14 39h1v1h-1zM20 39h1v1h-1zM37 39h1v1h-1zM42 39h1v1h-1zM51 40h2v1h-2zM3 41h1v1h-1zM30 41h1v1h-1zM51 41h2v1h-2zM23 42h1v1h-1zM27 42h1v1h-1zM38 42h1v1h-1zM7 43h1v1h-1zM11 43h1v1h-1zM22 43h1v1h-1zM31 43h1v1h-1zM33 43h1v1h-1zM7 44h1v1h-1zM17 44h1v1h-1zM26 44h1v1h-1zM39 44h1v1h-1zM26 45h1v1h-1zM33 45h3v1h-3zM43 45h1v1h-1zM45 45h1v1h-1zM2 46h1v1h-1zM6 46h1v1h-1zM9 46h2v1h-2zM25 46h1v1h-1zM30 46h1v1h-1zM11 47h1v1h-1zM36 47h1v1h-1zM22 48h1v1h-1zM30 48h1v1h-1zM8 49h2v1h-2zM35 49h1v1h-1zM37 49h1v1h-1zM2 50h1v1h-1zM7 50h1v1h-1zM9 50h1v1h-1zM30 50h1v1h-1zM32 50h1v1h-1zM35 50h1v1h-1zM37 50h1v1h-1zM47 50h1v1h-1zM2 51h1v1h-1zM7 51h1v1h-1zM9 51h1v1h-1zM30 51h1v1h-1zM32 51h1v1h-1zM35 51h1v1h-1zM37 51h1v1h-1zM47 51h1v1h-1z"/>
<path fill="#016937" d="M32 5h1v1h-1zM4 6h1v1h-1zM17 7h1v1h-1zM33 7h1v1h-1zM37 8h1v1h-1zM28 9h1v1h-1zM41 10h1v1h-1zM40 11h1v1h-1zM2 12h1v1h-1zM9 12h1v1h-1zM11 12h1v1h-1zM33 13h1v1h-1zM23 14h1v1h-1zM25 14h1v1h-1zM39 14h1v1h-1zM11 15h1v1h-1zM30 16h1v1h-1zM0 18h2v1h-2zM29 18h1v1h-1zM37 18h1v1h-1zM42 18h1v1h-1zM2 19h1v1h-1zM28 19h2v1h-2zM33 19h1v1h-1zM41 19h1v1h-1zM5 20h1v1h-1zM17 21h1v1h-1zM32 22h1v1h-1zM0 23h2v1h-2zM34 23h1v1h-1zM2 24h1v1h-1zM33 24h1v1h-1zM47 24h1v1h-1zM3 25h1v1h-1zM50 26h1v1h-1zM40 27h1v1h-1zM51 27h2v1h-2zM42 28h1v1h-1zM45 28h1v1h-1zM48 28h1v1h-1zM0 30h2v1h-2zM30 30h1v1h-1zM33 30h1v1h-1zM37 31h1v1h-1zM37 32h1v1h-1zM5 33h1v1h-1zM36 33h1v1h-1zM8 35h1v1h-1zM24 35h1v1h-1zM0 36h2v1h-2zM0 37h2v1h-2zM7 37h1v1h-1zM4 40h1v1h-1zM7 40h1v1h-1zM15 41h1v1h-1zM41 41h1v1h-1zM13 42h1v1h-1zM38 45h1v1h-1zM46 45h1v1h-1zM13 46h1v1h-1zM29 46h1v1h-1zM49 47h1v1h-1zM20 48h1v1h-1zM31 48h1v1h-1zM0 49h2v1h-2zM28 49h1v1h-1zM8 50h1v1h-1zM33 50h1v1h-1zM8 51h1v1h-1zM33 51h1v1h-1z"/>
<path fill="#00512e" d="M5 0h1v1h-1zM5 1h1v1h-1zM14 2h1v1h-1zM0 3h4v1h-4zM21 3h2v1h-2zM25 3h1v1h-1zM11 4h2v1h-2zM14 4h1v1h-1zM16 4h1v1h-1zM18 4h1v1h-1zM21 4h1v1h-1zM24 4h1v1h-1zM2 5h1v1h-1zM6 5h1v1h-1zM15 5h3v1h-3zM31 5h1v1h-1zM33 5h1v1h-1zM2 6h1v1h-1zM7 6h1v1h-1zM26 6h1v1h-1zM30 6h1v1h-1zM35 6h1v1h-1zM2 7h1v1h-1zM20 7h1v1h-1zM24 7h1v1h-1zM35 7h1v1h-1zM40 7h1v1h-1zM51 7h2v1h-2zM0 8h2v1h-2zM5 8h1v1h-1zM7 8h1v1h-1zM21 8h1v1h-1zM28 8h1v1h-1zM31 8h1v1h-1zM35 8h1v1h-1zM39 8h1v1h-1zM42 8h1v1h-1zM45 8h1v1h-1zM47 8h1v1h-1zM3 9h1v1h-1zM11 9h1v1h-1zM18 9h1v1h-1zM26 9h1v1h-1zM29 9h1v1h-1zM34 9h1v1h-1zM36 9h2v1h-2zM3 10h1v1h-1zM5 10h2v1h-2zM10 10h1v1h-1zM20 10h1v1h-1zM24 10h1v1h-1zM33 10h3v1h-3zM37 10h4v1h-4zM43 10h2v1h-2zM46 10h1v1h-1zM4 11h1v1h-1zM15 11h1v1h-1zM19 11h1v1h-1zM22 11h1v1h-1zM26 11h1v1h-1zM29 11h1v1h-1zM38 11h1v1h-1zM43 11h1v1h-1zM47 11h2v1h-2zM50 11h1v1h-1zM4 12h2v1h-2zM14 12h1v1h-1zM16 12h1v1h-1zM18 12h1v1h-1zM26 12h1v1h-1zM34 12h1v1h-1zM45 12h1v1h-1zM49 12h1v1h-1zM2 13h2v1h-2zM6 13h1v1h-1zM9 13h2v1h-2zM15 13h1v1h-1zM18 13h1v1h-1zM22 13h2v1h-2zM25 13h2v1h-2zM30 13h1v1h-1zM35 13h1v1h-1zM37 13h1v1h-1zM45 13h1v1h-1zM48 13h1v1h-1zM51 13h2v1h-2zM0 14h2v1h-2zM3 14h2v1h-2zM10 14h2v1h-2zM14 14h1v1h-1zM17 14h1v1h-1zM22 14h1v1h-1zM30 14h2v1h-2zM33 14h1v1h-1zM37 14h1v1h-1zM40 14h1v1h-1zM43 14h1v1h-1zM0 15h2v1h-2zM3 15h2v1h-2zM9 15h1v1h-1zM17 15h1v1h-1zM20 15h1v1h-1zM27 15h1v1h-1zM29 15h3v1h-3zM33 15h1v1h-1zM35 15h4v1h-4zM41 15h1v1h-1zM43 15h1v1h-1zM49 15h2v1h-2zM8 16h1v1h-1zM16 16h4v1h-4zM35 16h1v1h-1zM43 16h1v1h-1zM51 16h2v1h-2zM0 17h2v1h-2zM7 17h1v1h-1zM12 17h1v1h-1zM17 17h1v1h-1zM26 17h4v1h-4zM31 17h1v1h-1zM33 17h1v1h-1zM36 17h2v1h-2zM42 17h1v1h-1zM45 17h1v1h-1zM47 17h1v1h-1zM2 18h1v1h-1zM5 18h1v1h-1zM8 18h1v1h-1zM10 18h2v1h-2zM16 18h1v1h-1zM23 18h1v1h-1zM31 18h1v1h-1zM33 18h1v1h-1zM50 18h3v1h-3zM0 19h2v1h-2zM20 19h1v1h-1zM26 19h1v1h-1zM31 19h1v1h-1zM34 19h1v1h-1zM50 19h1v1h-1zM3 20h1v1h-1zM6 20h2v1h-2zM23 20h1v1h-1zM32 20h1v1h-1zM34 20h1v1h-1zM39 20h1v1h-1zM48 20h1v1h-1zM51 20h2v1h-2zM4 21h1v1h-1zM10 21h1v1h-1zM14 21h1v1h-1zM20 21h1v1h-1zM27 21h1v1h-1zM31 21h2v1h-2zM36 21h2v1h-2zM47 21h1v1h-1zM7 22h1v1h-1zM11 22h1v1h-1zM26 22h1v1h-1zM29 22h1v1h-1zM33 22h2v1h-2zM36 22h1v1h-1zM45 22h1v1h-1zM50 22h1v1h-1zM8 23h1v1h-1zM12 23h1v1h-1zM24 23h4v1h-4zM29 23h3v1h-3zM33 23h1v1h-1zM36 23h3v1h-3zM40 23h1v1h-1zM44 23h1v1h-1zM0 24h2v1h-2zM6 24h1v1h-1zM12 24h1v1h-1zM34 24h1v1h-1zM36 24h1v1h-1zM42 24h1v1h-1zM44 24h1v1h-1zM49 24h1v1h-1zM5 25h1v1h-1zM7 25h1v1h-1zM12 25h2v1h-2zM18 25h1v1h-1zM26 25h2v1h-2zM30 25h1v1h-1zM34 25h1v1h-1zM36 25h2v1h-2zM44 25h3v1h-3zM48 25h2v1h-2zM9 26h1v1h-1zM20 26h1v1h-1zM22 26h1v1h-1zM33 26h1v1h-1zM35 26h1v1h-1zM38 26h1v1h-1zM40 26h1v1h-1zM43 26h1v1h-1zM46 26h1v1h-1zM11 27h1v1h-1zM19 27h1v1h-1zM35 27h1v1h-1zM37 27h1v1h-1zM47 27h3v1h-3zM2 28h1v1h-1zM21 28h1v1h-1zM29 28h2v1h-2zM47 28h1v1h-1zM7 29h2v1h-2zM20 29h1v1h-1zM22 29h1v1h-1zM28 29h1v1h-1zM36 29h1v1h-1zM2 30h1v1h-1zM34 30h1v1h-1zM36 30h1v1h-1zM44 30h2v1h-2zM47 30h1v1h-1zM50 30h3v1h-3zM5 31h1v1h-1zM14 31h1v1h-1zM26 31h1v1h-1zM40 31h1v1h-1zM42 31h1v1h-1zM44 31h1v1h-1zM47 31h2v1h-2zM8 32h1v1h-1zM23 32h1v1h-1zM29 32h1v1h-1zM35 32h1v1h-1zM38 32h1v1h-1zM45 32h1v1h-1zM47 32h2v1h-2zM3 33h1v1h-1zM16 33h1v1h-1zM21 33h1v1h-1zM34 33h2v1h-2zM48 33h2v1h-2zM5 34h1v1h-1zM13 34h2v1h-2zM25 34h1v1h-1zM27 34h3v1h-3zM31 34h1v1h-1zM36 34h1v1h-1zM38 34h1v1h-1zM40 34h2v1h-2zM45 34h1v1h-1zM0 35h4v1h-4zM10 35h1v1h-1zM13 35h1v1h-1zM29 35h1v1h-1zM31 35h1v1h-1zM40 35h3v1h-3zM5 36h1v1h-1zM10 36h1v1h-1zM21 36h2v1h-2zM28 36h1v1h-1zM30 36h1v1h-1zM33 36h1v1h-1zM35 36h1v1h-1zM37 36h1v1h-1zM40 36h2v1h-2zM3 37h2v1h-2zM8 37h1v1h-1zM18 37h1v1h-1zM23 37h1v1h-1zM32 37h1v1h-1zM42 37h1v1h-1zM46 37h1v1h-1zM50 37h1v1h-1zM13 38h2v1h-2zM17 38h1v1h-1zM22 38h1v1h-1zM24 38h1v1h-1zM29 38h1v1h-1zM34 38h1v1h-1zM48 38h1v1h-1zM51 38h2v1h-2zM6 39h1v1h-1zM12 39h2v1h-2zM18 39h2v1h-2zM21 39h1v1h-1zM26 39h1v1h-1zM30 39h1v1h-1zM35 39h1v1h-1zM40 39h2v1h-2zM43 39h1v1h-1zM0 40h2v1h-2zM11 40h1v1h-1zM15 40h2v1h-2zM20 40h1v1h-1zM35 40h1v1h-1zM43 40h1v1h-1zM47 40h2v1h-2zM11 41h3v1h-3zM33 41h1v1h-1zM37 41h2v1h-2zM43 41h1v1h-1zM45 41h1v1h-1zM49 41h1v1h-1zM0 42h2v1h-2zM3 42h1v1h-1zM11 42h2v1h-2zM14 42h2v1h-2zM29 42h1v1h-1zM35 42h3v1h-3zM39 42h2v1h-2zM5 43h1v1h-1zM9 43h2v1h-2zM13 43h2v1h-2zM17 43h1v1h-1zM25 43h1v1h-1zM38 43h1v1h-1zM43 43h1v1h-1zM48 43h2v1h-2zM0 44h2v1h-2zM5 44h2v1h-2zM8 44h1v1h-1zM23 44h1v1h-1zM29 44h1v1h-1zM31 44h1v1h-1zM37 44h1v1h-1zM45 44h1v1h-1zM8 45h3v1h-3zM13 45h1v1h-1zM18 45h1v1h-1zM25 45h1v1h-1zM28 45h1v1h-1zM39 45h1v1h-1zM50 45h1v1h-1zM4 46h2v1h-2zM18 46h1v1h-1zM26 46h3v1h-3zM33 46h2v1h-2zM45 46h1v1h-1zM48 46h1v1h-1zM3 47h1v1h-1zM12 47h4v1h-4zM18 47h1v1h-1zM27 47h1v1h-1zM29 47h1v1h-1zM34 47h1v1h-1zM42 47h2v1h-2zM0 48h2v1h-2zM5 48h1v1h-1zM12 48h1v1h-1zM14 48h1v1h-1zM16 48h3v1h-3zM25 48h1v1h-1zM34 48h4v1h-4zM43 48h1v1h-1zM2 49h4v1h-4zM7 49h1v1h-1zM11 49h4v1h-4zM16 49h1v1h-1zM19 49h1v1h-1zM21 49h2v1h-2zM27 49h1v1h-1zM32 49h1v1h-1zM49 49h2v1h-2zM0 50h2v1h-2zM11 50h1v1h-1zM17 50h1v1h-1zM19 50h2v1h-2zM24 50h1v1h-1zM40 50h1v1h-1zM42 50h1v1h-1zM44 50h1v1h-1zM46 50h1v1h-1zM50 50h1v1h-1zM0 51h2v1h-2zM11 51h1v1h-1zM17 51h1v1h-1zM19 51h2v1h-2zM24 51h1v1h-1zM40 51h1v1h-1zM42 51h1v1h-1zM44 51h1v1h-1zM46 51h1v1h-1zM50 51h1v1h-1z"/>
<path fill="#004529" d="M2 0h1v1h-1zM2 1h1v1h-1zM8 2h2v1h-2zM5 3h1v1h-1zM9 3h1v1h-1zM16 3h1v1h-1zM3 4h1v1h-1zM15 4h1v1h-1zM19 4h1v1h-1zM9 5h1v1h-1zM14 5h1v1h-1zM19 5h1v1h-1zM26 5h2v1h-2zM30 5h1v1h-1zM10 6h1v1h-1zM12 6h1v1h-1zM22 6h1v1h-1zM28 6h1v1h-1zM40 6h1v1h-1zM8 7h1v1h-1zM18 7h1v1h-1zM27 7h1v1h-1zM38 7h1v1h-1zM49 7h1v1h-1zM3 8h2v1h-2zM6 8h1v1h-1zM14 8h1v1h-1zM24 8h1v1h-1zM49 8h1v1h-1zM15 9h1v1h-1zM23 9h1v1h-1zM38 9h1v1h-1zM51 9h2v1h-2zM9 10h1v1h-1zM13 10h2v1h-2zM19 10h1v1h-1zM26 10h1v1h-1zM30 10h1v1h-1zM32 10h1v1h-1zM36 10h1v1h-1zM49 10h1v1h-1zM51 10h2v1h-2zM0 11h2v1h-2zM17 11h1v1h-1zM20 11h1v1h-1zM36 11h2v1h-2zM45 11h1v1h-1zM6 12h1v1h-1zM19 12h1v1h-1zM22 12h1v1h-1zM25 12h1v1h-1zM27 12h2v1h-2zM37 12h1v1h-1zM43 12h1v1h-1zM7 13h1v1h-1zM24 13h1v1h-1zM28 13h1v1h-1zM41 13h1v1h-1zM43 13h1v1h-1zM6 14h2v1h-2zM16 14h1v1h-1zM26 14h1v1h-1zM29 14h1v1h-1zM49 14h1v1h-1zM13 15h1v1h-1zM28 15h1v1h-1zM34 16h1v1h-1zM39 16h1v1h-1zM41 16h1v1h-1zM3 17h1v1h-1zM11 17h1v1h-1zM20 17h1v1h-1zM25 17h1v1h-1zM32 17h1v1h-1zM39 17h1v1h-1zM49 17h1v1h-1zM6 18h1v1h-1zM30 18h1v1h-1zM32 18h1v1h-1zM47 18h1v1h-1zM12 19h1v1h-1zM15 19h1v1h-1zM22 19h1v1h-1zM27 19h1v1h-1zM39 19h1v1h-1zM4 20h1v1h-1zM9 20h1v1h-1zM11 20h1v1h-1zM14 20h1v1h-1zM17 20h1v1h-1zM27 20h2v1h-2zM30 20h2v1h-2zM37 20h2v1h-2zM40 20h1v1h-1zM43 20h1v1h-1zM47 20h1v1h-1zM29 21h1v1h-1zM40 21h1v1h-1zM43 21h1v1h-1zM48 21h1v1h-1zM51 21h2v1h-2zM3 22h1v1h-1zM38 22h1v1h-1zM48 22h1v1h-1zM2 23h1v1h-1zM5 23h1v1h-1zM39 23h1v1h-1zM45 23h1v1h-1zM48 23h1v1h-1zM50 23h1v1h-1zM10 24h1v1h-1zM22 24h1v1h-1zM43 24h1v1h-1zM48 24h1v1h-1zM51 24h2v1h-2zM0 25h2v1h-2zM20 25h1v1h-1zM29 25h1v1h-1zM31 25h3v1h-3zM35 25h1v1h-1zM40 25h2v1h-2zM43 25h1v1h-1zM51 25h2v1h-2zM5 26h1v1h-1zM24 26h1v1h-1zM37 26h1v1h-1zM39 26h1v1h-1zM41 26h2v1h-2zM47 26h1v1h-1zM6 27h1v1h-1zM18 27h1v1h-1zM21 27h1v1h-1zM29 27h1v1h-1zM32 27h1v1h-1zM34 27h1v1h-1zM41 27h1v1h-1zM44 27h1v1h-1zM4 28h1v1h-1zM7 28h1v1h-1zM11 28h1v1h-1zM44 28h1v1h-1zM34 29h2v1h-2zM41 29h1v1h-1zM45 29h1v1h-1zM51 29h2v1h-2zM5 30h1v1h-1zM14 30h1v1h-1zM23 30h2v1h-2zM31 30h2v1h-2zM39 30h1v1h-1zM41 30h2v1h-2zM4 31h1v1h-1zM29 31h3v1h-3zM35 31h1v1h-1zM38 31h1v1h-1zM43 31h1v1h-1zM50 31h3v1h-3zM13 32h1v1h-1zM22 32h1v1h-1zM36 32h1v1h-1zM51 32h2v1h-2zM8 33h1v1h-1zM12 33h2v1h-2zM18 33h1v1h-1zM22 33h1v1h-1zM24 33h1v1h-1zM33 33h1v1h-1zM43 33h2v1h-2zM50 33h1v1h-1zM2 34h2v1h-2zM6 34h1v1h-1zM15 34h1v1h-1zM23 34h1v1h-1zM30 34h1v1h-1zM37 34h1v1h-1zM43 34h1v1h-1zM49 34h1v1h-1zM17 35h1v1h-1zM20 35h1v1h-1zM39 35h1v1h-1zM43 35h1v1h-1zM45 35h1v1h-1zM48 35h1v1h-1zM9 36h1v1h-1zM23 36h1v1h-1zM27 36h1v1h-1zM31 36h2v1h-2zM38 36h1v1h-1zM42 36h1v1h-1zM46 36h1v1h-1zM2 37h1v1h-1zM27 37h1v1h-1zM33 37h1v1h-1zM44 37h1v1h-1zM49 37h1v1h-1zM5 38h1v1h-1zM12 38h1v1h-1zM23 38h1v1h-1zM30 38h1v1h-1zM10 39h1v1h-1zM22 39h1v1h-1zM29 39h1v1h-1zM36 39h1v1h-1zM46 39h1v1h-1zM6 40h1v1h-1zM12 40h1v1h-1zM26 40h1v1h-1zM36 40h1v1h-1zM7 41h1v1h-1zM14 41h1v1h-1zM26 41h1v1h-1zM35 41h2v1h-2zM40 41h1v1h-1zM7 42h1v1h-1zM18 42h1v1h-1zM20 42h2v1h-2zM24 42h1v1h-1zM26 42h1v1h-1zM41 42h1v1h-1zM43 42h1v1h-1zM49 42h1v1h-1zM51 42h2v1h-2zM2 43h1v1h-1zM8 43h1v1h-1zM12 43h1v1h-1zM28 43h1v1h-1zM32 43h1v1h-1zM35 43h1v1h-1zM37 43h1v1h-1zM47 43h1v1h-1zM2 44h1v1h-1zM16 44h1v1h-1zM21 44h1v1h-1zM24 44h1v1h-1zM30 44h1v1h-1zM33 44h1v1h-1zM36 44h1v1h-1zM44 44h1v1h-1zM47 44h1v1h-1zM49 44h1v1h-1zM16 45h1v1h-1zM29 45h1v1h-1zM31 45h1v1h-1zM36 45h1v1h-1zM47 45h1v1h-1zM7 46h2v1h-2zM12 46h1v1h-1zM15 46h1v1h-1zM23 46h2v1h-2zM37 46h1v1h-1zM41 46h2v1h-2zM2 47h1v1h-1zM4 47h1v1h-1zM7 47h1v1h-1zM16 47h2v1h-2zM21 47h1v1h-1zM23 47h1v1h-1zM33 47h1v1h-1zM45 47h1v1h-1zM2 48h1v1h-1zM7 48h1v1h-1zM28 48h2v1h-2zM38 48h1v1h-1zM40 48h1v1h-1zM17 49h1v1h-1zM23 49h2v1h-2zM10 50h1v1h-1zM22 50h1v1h-1zM27 50h1v1h-1zM38 50h2v1h-2zM41 50h1v1h-1zM45 50h1v1h-1zM10 51h1v1h-1zM22 51h1v1h-1zM27 51h1v1h-1zM38 51h2v1h-2zM41 51h1v1h-1zM45 51h1v1h-1z"/>
</g></g>
</g>
<g clip-path="url(#clipD)"><g fill="none" stroke="#f4b183" stroke-width="2.9" stroke-dasharray="10.4 4.4" opacity="0.94">
<ellipse cx="474.5" cy="499.5" rx="39" ry="57" transform="rotate(-26.6 474.5 499.5)"/>
<circle cx="600.6" cy="432.7" r="25.9"/>
<circle cx="600.6" cy="568" r="25.9"/>
</g></g>
<rect x="395.5" y="371.45" width="232.4" height="226.95" fill="none" stroke="#2a2a2a" stroke-width="0.8"/>
<text class="dj" x="397.8" y="613.7" font-size="11.5" fill="#2a2a2a" text-anchor="middle">0</text>
<text class="dj" x="443.3" y="613.7" font-size="11.5" fill="#2a2a2a" text-anchor="middle">10</text>
<text class="dj" x="488.9" y="613.7" font-size="11.5" fill="#2a2a2a" text-anchor="middle">20</text>
<text class="dj" x="534.5" y="613.7" font-size="11.5" fill="#2a2a2a" text-anchor="middle">30</text>
<text class="dj" x="580.1" y="613.7" font-size="11.5" fill="#2a2a2a" text-anchor="middle">40</text>
<text class="dj" x="625.6" y="613.7" font-size="11.5" fill="#2a2a2a" text-anchor="middle">50</text>
<rect x="643.3" y="371.45" width="11.6" height="226.95" fill="url(#gYlGn)" stroke="#333" stroke-width="0.8"/>
<text class="dj" x="660.2" y="603.0" font-size="11.2" fill="#2a2a2a" text-anchor="start">10</text>
<text class="dj" x="660.2" y="565.2" font-size="11.2" fill="#2a2a2a" text-anchor="start">20</text>
<text class="dj" x="660.2" y="527.4" font-size="11.2" fill="#2a2a2a" text-anchor="start">30</text>
<text class="dj" x="660.2" y="489.5" font-size="11.2" fill="#2a2a2a" text-anchor="start">40</text>
<text class="dj" x="660.2" y="451.7" font-size="11.2" fill="#2a2a2a" text-anchor="start">50</text>
<text class="dj" x="660.2" y="413.9" font-size="11.2" fill="#2a2a2a" text-anchor="start">60</text>
<text class="dj" x="660.2" y="376.1" font-size="11.2" fill="#2a2a2a" text-anchor="start">70</text>
<path d="M397.78 598.4v3M443.35 598.4v3M488.92 598.4v3M534.48 598.4v3M580.05 598.4v3M625.62 598.4v3M395.5 373.72h-3M395.5 419.11h-3M395.5 464.50h-3M395.5 509.89h-3M395.5 555.28h-3M654.9 598.40h3M654.9 560.57h3M654.9 522.75h3M654.9 484.93h3M654.9 447.10h3M654.9 409.27h3M654.9 371.45h3" stroke="#333" stroke-width="0.8" fill="none"/>
</g>
</svg></body></html>
